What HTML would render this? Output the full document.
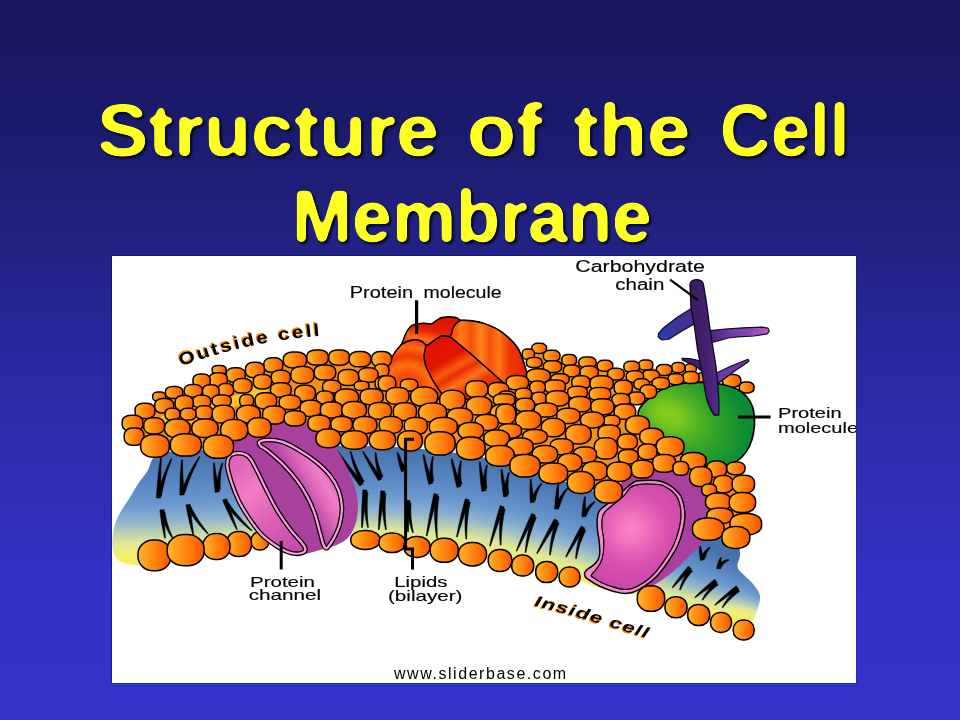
<!DOCTYPE html>
<html lang="en">
<head>
<meta charset="utf-8">
<title>Structure of the Cell Membrane</title>
<style>
html,body{margin:0;padding:0;}
body{width:960px;height:720px;overflow:hidden;position:relative;font-family:"Liberation Sans",sans-serif;
background:linear-gradient(to bottom,#1a1a5e 0px,#1a1a6c 120px,#222284 250px,#2929a0 360px,#2e2eb4 480px,#3232c8 600px,#3333cc 720px);}
.slide{position:absolute;left:0;top:0;width:960px;height:720px;overflow:hidden;}
h1{margin:0;font-weight:bold;}
.title span{position:absolute;font-family:"Liberation Sans",sans-serif;font-weight:bold;font-size:74px;line-height:74px;color:#ffff26;white-space:pre;transform-origin:0 0;}
.title{filter:url(#round);}
.figure{position:absolute;left:111px;top:255px;width:744px;height:427px;background:#fff;background-clip:padding-box;border-style:solid;border-width:1px;border-color:rgba(0,0,120,0.5) rgba(0,0,140,0.25) rgba(0,0,140,0.2) rgba(0,0,120,0.45);}
svg{position:absolute;left:0;top:0;}
.lbl{font-family:"Liberation Sans",sans-serif;fill:#050505;stroke:#050505;stroke-width:0.15px;}
.credit{position:absolute;left:394px;top:663.5px;width:180px;font-family:"Liberation Sans",sans-serif;font-size:16px;line-height:20px;color:#000;letter-spacing:1.55px;white-space:pre;}
</style>
</head>
<body>
<div class="slide">
<h1 class="title">
<span style="left:96.5px;top:94px;transform:scaleX(1.04)">Structure</span>
<span style="left:467px;top:94px;transform:scaleX(1.084)">of</span>
<span style="left:573px;top:94px;transform:scaleX(1.06)">the</span>
<span style="left:720px;top:94px;transform:scaleX(0.952)">Cell</span>
<span style="left:292px;top:179.5px;transform:scaleX(0.973)">Membrane</span>
</h1>
<div class="figure"></div>
<svg width="960" height="720" viewBox="0 0 960 720">
<defs><filter id="round" x="0" y="0" width="960" height="260" filterUnits="userSpaceOnUse" color-interpolation-filters="sRGB">
<feGaussianBlur in="SourceAlpha" stdDeviation="2.4" result="b"/>
<feComponentTransfer in="b" result="t"><feFuncA type="linear" slope="9" intercept="-4"/></feComponentTransfer>
<feFlood flood-color="#ffff24"/><feComposite in2="t" operator="in" result="txt"/>
<feOffset in="t" dx="2.4" dy="2.4" result="o"/><feGaussianBlur in="o" stdDeviation="0.9" result="ob"/>
<feFlood flood-color="#04041c"/><feComposite in2="ob" operator="in" result="sh"/>
<feMerge><feMergeNode in="sh"/><feMergeNode in="txt"/></feMerge>
</filter></defs>
<defs>
<linearGradient id="sg" x1="0" y1="0" x2="1" y2="0">
<stop offset="0" stop-color="#ffb62a"/><stop offset="0.4" stop-color="#ff9014"/><stop offset="0.75" stop-color="#ff6e06"/><stop offset="1" stop-color="#f55200"/>
</linearGradient>
<linearGradient id="bl1" gradientUnits="userSpaceOnUse" x1="0" y1="450" x2="0" y2="564">
<stop offset="0" stop-color="#4670aa"/><stop offset="0.25" stop-color="#5784bf"/><stop offset="0.48" stop-color="#6896cc"/><stop offset="0.62" stop-color="#86a8c2"/><stop offset="0.76" stop-color="#b2c4a0"/><stop offset="0.88" stop-color="#dcdf7c"/><stop offset="1" stop-color="#f8f05a"/>
</linearGradient>
<linearGradient id="bl2" gradientUnits="userSpaceOnUse" x1="600" y1="492" x2="572" y2="590">
<stop offset="0" stop-color="#4670aa"/><stop offset="0.25" stop-color="#5784bf"/><stop offset="0.48" stop-color="#6896cc"/><stop offset="0.62" stop-color="#86a8c2"/><stop offset="0.76" stop-color="#b2c4a0"/><stop offset="0.88" stop-color="#dcdf7c"/><stop offset="1" stop-color="#f8f05a"/>
</linearGradient>
<linearGradient id="bl3" gradientUnits="userSpaceOnUse" x1="754.3" y1="569.9" x2="741.7" y2="614.1">
<stop offset="0" stop-color="#4670aa"/><stop offset="0.25" stop-color="#5784bf"/><stop offset="0.48" stop-color="#6896cc"/><stop offset="0.62" stop-color="#86a8c2"/><stop offset="0.76" stop-color="#b2c4a0"/><stop offset="0.88" stop-color="#dcdf7c"/><stop offset="1" stop-color="#f8f05a"/>
</linearGradient>
<linearGradient id="fadeR2" gradientUnits="userSpaceOnUse" x1="655" y1="0" x2="725" y2="0">
<stop offset="0" stop-color="#fff" stop-opacity="0"/><stop offset="1" stop-color="#fff" stop-opacity="1"/>
</linearGradient>
<mask id="mR2"><rect x="0" y="0" width="960" height="720" fill="url(#fadeR2)"/></mask>
<linearGradient id="fadeR" gradientUnits="userSpaceOnUse" x1="430" y1="0" x2="520" y2="0">
<stop offset="0" stop-color="#fff" stop-opacity="0"/><stop offset="1" stop-color="#fff" stop-opacity="1"/>
</linearGradient>
<mask id="mR"><rect x="0" y="0" width="960" height="720" fill="url(#fadeR)"/></mask>
<radialGradient id="pk1" cx="0.5" cy="0.45" r="0.6"><stop offset="0" stop-color="#f578c0"/><stop offset="0.5" stop-color="#e45cb4"/><stop offset="1" stop-color="#c84aa8"/></radialGradient>
<radialGradient id="pk2" gradientUnits="userSpaceOnUse" cx="631.5" cy="529" r="58"><stop offset="0" stop-color="#f986c6"/><stop offset="0.22" stop-color="#f274be"/><stop offset="0.42" stop-color="#e462b6"/><stop offset="0.66" stop-color="#d650ae"/><stop offset="1" stop-color="#cb48aa"/></radialGradient>
<radialGradient id="gr" gradientUnits="userSpaceOnUse" cx="0" cy="0" r="1" gradientTransform="translate(670,415) rotate(28) scale(84,58)"><stop offset="0" stop-color="#86cc1c"/><stop offset="0.15" stop-color="#7cc81e"/><stop offset="0.32" stop-color="#5ab624"/><stop offset="0.52" stop-color="#3aa628"/><stop offset="0.74" stop-color="#229a2e"/><stop offset="1" stop-color="#0e8a34"/></radialGradient>
<radialGradient id="rd1" gradientUnits="userSpaceOnUse" cx="408" cy="388" r="52"><stop offset="0" stop-color="#ff7a14"/><stop offset="0.25" stop-color="#f24a0a"/><stop offset="0.45" stop-color="#ff7012"/><stop offset="0.62" stop-color="#ee3a06"/><stop offset="0.78" stop-color="#ff6a12"/><stop offset="1" stop-color="#ec3004"/></radialGradient>
<linearGradient id="rdB" gradientUnits="userSpaceOnUse" x1="430" y1="318" x2="424" y2="346"><stop offset="0" stop-color="#e01400"/><stop offset="0.45" stop-color="#e82204"/><stop offset="0.75" stop-color="#ff6c12"/><stop offset="1" stop-color="#f04808"/></linearGradient>
<linearGradient id="rd2" gradientUnits="userSpaceOnUse" x1="440" y1="340" x2="475" y2="400"><stop offset="0" stop-color="#df1200"/><stop offset="0.3" stop-color="#e21600"/><stop offset="0.45" stop-color="#f85a0e"/><stop offset="0.55" stop-color="#ea3004"/><stop offset="0.68" stop-color="#ff7414"/><stop offset="0.8" stop-color="#ee3c06"/><stop offset="1" stop-color="#e21a00"/></linearGradient>
<linearGradient id="rd3" gradientUnits="userSpaceOnUse" x1="452" y1="0" x2="528" y2="0"><stop offset="0" stop-color="#f04a0a"/><stop offset="0.12" stop-color="#ff7a14"/><stop offset="0.25" stop-color="#f2540c"/><stop offset="0.38" stop-color="#ff8218"/><stop offset="0.5" stop-color="#f4520c"/><stop offset="0.62" stop-color="#ff7814"/><stop offset="0.75" stop-color="#ee3a06"/><stop offset="0.88" stop-color="#ea2c04"/><stop offset="1" stop-color="#e21800"/></linearGradient>
<linearGradient id="cb1" gradientUnits="userSpaceOnUse" x1="660" y1="338" x2="694" y2="314"><stop offset="0" stop-color="#2840a8"/><stop offset="1" stop-color="#4c2a88"/></linearGradient>
<linearGradient id="cb2" gradientUnits="userSpaceOnUse" x1="712" y1="335" x2="768" y2="330"><stop offset="0" stop-color="#4a2884"/><stop offset="0.5" stop-color="#7a42b0"/><stop offset="0.85" stop-color="#a050bc"/><stop offset="1" stop-color="#d458c4"/></linearGradient>
<linearGradient id="cb3" gradientUnits="userSpaceOnUse" x1="690" y1="0" x2="722" y2="0"><stop offset="0" stop-color="#3a1a60"/><stop offset="0.5" stop-color="#43206e"/><stop offset="1" stop-color="#54308c"/></linearGradient>
</defs>
<clipPath id="cpB"><path d="M157.0,455.0 C164.1,451.5 176.2,450.5 190.0,450.0 C203.8,449.5 216.7,452.7 240.0,452.0 C263.3,451.3 301.7,446.7 330.0,446.0 C358.3,445.3 386.7,446.5 410.0,448.0 C433.3,449.5 455.0,452.7 470.0,455.0 C485.0,457.3 485.0,457.8 500.0,462.0 C515.0,466.2 541.7,474.2 560.0,480.0 C578.3,485.8 593.3,491.2 610.0,497.0 C626.7,502.8 645.0,509.5 660.0,515.0 C675.0,520.5 687.5,525.0 700.0,530.0 C712.5,535.0 728.3,540.8 735.0,545.0 C741.7,549.2 739.6,551.3 740.0,555.0 C740.4,558.7 736.7,563.5 737.5,567.0 C738.3,570.5 742.4,573.2 745.0,576.0 C747.6,578.8 750.5,580.7 753.0,584.0 C755.5,587.3 759.3,591.5 760.0,596.0 C760.7,600.5 758.3,606.7 757.0,611.0 C755.7,615.3 754.0,618.5 752.0,622.0 C750.0,625.5 750.3,632.0 745.0,632.0 C739.7,632.0 731.5,626.2 720.0,622.0 C708.5,617.8 687.5,611.0 676.0,607.0 C664.5,603.0 663.7,601.2 651.0,598.0 C638.3,594.8 613.5,591.5 600.0,588.0 C586.5,584.5 582.8,580.8 570.0,577.0 C557.2,573.2 539.3,568.8 523.0,565.0 C506.7,561.2 489.8,557.0 472.0,554.0 C454.2,551.0 433.3,549.5 416.0,547.0 C398.7,544.5 378.7,541.3 368.0,539.0 C357.3,536.7 358.3,534.3 352.0,533.0 C345.7,531.7 338.7,530.2 330.0,531.0 C321.3,531.8 311.3,536.3 300.0,538.0 C288.7,539.7 272.2,540.0 262.0,541.0 C251.8,542.0 246.7,542.8 239.0,544.0 C231.3,545.2 225.0,546.7 216.0,548.0 C207.0,549.3 195.2,549.7 185.0,552.0 C174.8,554.3 162.7,559.8 155.0,562.0 C147.3,564.2 144.5,564.9 139.0,565.0 C133.5,565.1 126.1,564.2 122.0,562.5 C117.9,560.8 116.1,557.9 114.5,555.0 C112.9,552.1 112.5,548.5 112.3,545.0 C112.0,541.5 112.4,538.0 113.0,534.0 C113.6,530.0 114.5,525.0 116.0,521.0 C117.5,517.0 119.2,514.2 121.7,510.0 C124.2,505.8 128.1,500.3 130.8,496.0 C133.5,491.7 135.2,488.2 138.0,484.0 C140.8,479.8 144.3,475.8 147.5,471.0 C150.7,466.2 149.9,458.5 157.0,455.0Z"/></clipPath>
<linearGradient id="blv" x1="0" y1="0" x2="0" y2="1"><stop offset="0" stop-color="#4670aa"/><stop offset="0.25" stop-color="#5784bf"/><stop offset="0.45" stop-color="#6896cc"/><stop offset="0.55" stop-color="#7ca6d0"/><stop offset="0.63" stop-color="#92b6cc"/><stop offset="0.72" stop-color="#b8d0b0"/><stop offset="0.8" stop-color="#dce69a"/><stop offset="0.9" stop-color="#eeee78"/><stop offset="1" stop-color="#f8f05a"/></linearGradient>
<filter id="bx" x="80" y="380" width="730" height="300" filterUnits="userSpaceOnUse"><feGaussianBlur stdDeviation="3.5 0"/></filter>
<g clip-path="url(#cpB)"><g filter="url(#bx)" shape-rendering="crispEdges"><path d="M90.0,400.0 L90.0,457.0 L96.0,457.0 L102.0,457.0 L108.0,457.0 L114.0,457.0 L120.0,457.0 L126.0,457.0 L132.0,457.0 L138.0,457.0 L144.0,457.0 L150.0,457.0 L156.0,457.0 L162.0,456.9 L168.0,456.7 L174.0,456.5 L180.0,456.3 L186.0,456.1 L192.0,455.9 L198.0,455.7 L204.0,455.4 L210.0,455.2 L216.0,455.0 L222.0,454.8 L228.0,454.6 L234.0,454.4 L240.0,454.2 L246.0,454.0 L252.0,453.8 L258.0,453.5 L264.0,453.3 L270.0,453.1 L276.0,452.9 L282.0,452.7 L288.0,452.5 L294.0,452.3 L300.0,452.1 L306.0,451.8 L312.0,451.6 L318.0,451.4 L324.0,451.2 L330.0,451.0 L336.0,451.1 L342.0,451.3 L348.0,451.4 L354.0,451.6 L360.0,451.8 L366.0,451.9 L372.0,452.1 L378.0,452.2 L384.0,452.4 L390.0,452.5 L396.0,452.6 L402.0,452.8 L408.0,452.9 L414.0,453.5 L420.0,454.2 L426.0,454.9 L432.0,455.6 L438.0,456.3 L444.0,457.0 L450.0,457.7 L456.0,458.4 L462.0,459.1 L468.0,459.8 L474.0,460.9 L480.0,462.3 L486.0,463.7 L492.0,465.1 L498.0,466.5 L504.0,468.2 L510.0,470.0 L516.0,471.8 L522.0,473.6 L528.0,475.4 L534.0,477.2 L540.0,479.0 L546.0,480.8 L552.0,482.6 L558.0,484.4 L564.0,486.4 L570.0,488.4 L576.0,490.4 L582.0,492.5 L588.0,494.5 L594.0,496.6 L600.0,498.6 L606.0,500.6 L612.0,502.8 L618.0,505.2 L624.0,507.6 L630.0,510.0 L636.0,512.4 L642.0,514.8 L648.0,517.2 L654.0,519.6 L660.0,522.0 L666.0,525.5 L672.0,528.9 L678.0,532.4 L684.0,535.8 L690.0,539.2 L696.0,542.7 L702.0,546.1 L708.0,549.3 L714.0,552.6 L720.0,555.8 L726.0,559.1 L732.0,562.3 L738.0,565.6 L744.0,568.8 L750.0,572.1 L756.0,575.4 L762.0,578.6 L768.0,581.9 L774.0,583.0 L780.0,583.0 L786.0,583.0 L792.0,583.0 L799.0,583.0 L799.0,400.0Z" fill="#4670aa"/><path d="M90.0,670.0 L90.0,559.0 L96.0,559.0 L102.0,559.0 L108.0,559.0 L114.0,559.0 L120.0,559.0 L126.0,559.0 L132.0,559.0 L138.0,559.0 L144.0,559.0 L150.0,559.0 L156.0,559.0 L162.0,558.8 L168.0,558.4 L174.0,557.9 L180.0,557.4 L186.0,556.9 L192.0,556.4 L198.0,556.0 L204.0,555.5 L210.0,555.0 L216.0,554.5 L222.0,554.0 L228.0,553.6 L234.0,553.1 L240.0,552.6 L246.0,552.1 L252.0,551.6 L258.0,551.2 L264.0,550.7 L270.0,550.3 L276.0,549.9 L282.0,549.5 L288.0,549.1 L294.0,548.7 L300.0,548.3 L306.0,547.9 L312.0,547.5 L318.0,547.1 L324.0,546.7 L330.0,546.3 L336.0,545.9 L342.0,545.5 L348.0,545.1 L354.0,544.7 L360.0,544.3 L366.0,544.1 L372.0,544.4 L378.0,544.7 L384.0,545.0 L390.0,545.4 L396.0,545.7 L402.0,546.0 L408.0,546.3 L414.0,546.7 L420.0,547.0 L426.0,547.7 L432.0,548.4 L438.0,549.1 L444.0,549.8 L450.0,550.5 L456.0,551.2 L462.0,551.8 L468.0,552.5 L474.0,553.4 L480.0,554.6 L486.0,555.7 L492.0,556.9 L498.0,558.1 L504.0,559.3 L510.0,560.5 L516.0,561.6 L522.0,562.8 L528.0,564.4 L534.0,566.0 L540.0,567.7 L546.0,569.4 L552.0,571.0 L558.0,572.7 L564.0,574.3 L570.0,576.0 L576.0,578.0 L582.0,580.0 L588.0,582.0 L594.0,584.0 L600.0,586.0 L606.0,587.8 L612.0,589.5 L618.0,591.3 L624.0,593.1 L630.0,594.8 L636.0,596.6 L642.0,598.4 L648.0,600.1 L654.0,601.6 L660.0,602.8 L666.0,604.1 L672.0,605.3 L678.0,606.5 L684.0,607.7 L690.0,609.0 L696.0,610.2 L702.0,611.2 L708.0,611.7 L714.0,612.2 L720.0,612.7 L726.0,613.2 L732.0,613.7 L738.0,614.2 L744.0,614.7 L750.0,615.5 L756.0,617.2 L762.0,618.8 L768.0,620.5 L774.0,621.0 L780.0,621.0 L786.0,621.0 L792.0,621.0 L799.0,621.0 L799.0,670.0Z" fill="#f8f05a"/><g fill="url(#blv)"><rect x="90" y="452.0" width="6.6" height="112.0"/><rect x="96" y="452.0" width="6.6" height="112.0"/><rect x="102" y="452.0" width="6.6" height="112.0"/><rect x="108" y="452.0" width="6.6" height="112.0"/><rect x="114" y="452.0" width="6.6" height="112.0"/><rect x="120" y="452.0" width="6.6" height="112.0"/><rect x="126" y="452.0" width="6.6" height="112.0"/><rect x="132" y="452.0" width="6.6" height="112.0"/><rect x="138" y="452.0" width="6.6" height="112.0"/><rect x="144" y="452.0" width="6.6" height="112.0"/><rect x="150" y="452.0" width="6.6" height="112.0"/><rect x="156" y="452.0" width="6.6" height="112.0"/><rect x="162" y="451.8" width="6.6" height="111.8"/><rect x="168" y="451.6" width="6.6" height="111.5"/><rect x="174" y="451.4" width="6.6" height="111.2"/><rect x="180" y="451.2" width="6.6" height="111.0"/><rect x="186" y="451.0" width="6.6" height="110.7"/><rect x="192" y="450.8" width="6.6" height="110.4"/><rect x="198" y="450.6" width="6.6" height="110.2"/><rect x="204" y="450.3" width="6.6" height="109.9"/><rect x="210" y="450.1" width="6.6" height="109.6"/><rect x="216" y="449.9" width="6.6" height="109.4"/><rect x="222" y="449.7" width="6.6" height="109.1"/><rect x="228" y="449.5" width="6.6" height="108.8"/><rect x="234" y="449.3" width="6.6" height="108.6"/><rect x="240" y="449.1" width="6.6" height="108.3"/><rect x="246" y="448.9" width="6.6" height="108.0"/><rect x="252" y="448.6" width="6.6" height="107.8"/><rect x="258" y="448.4" width="6.6" height="107.5"/><rect x="264" y="448.2" width="6.6" height="107.3"/><rect x="270" y="448.0" width="6.6" height="107.1"/><rect x="276" y="447.8" width="6.6" height="106.9"/><rect x="282" y="447.6" width="6.6" height="106.7"/><rect x="288" y="447.4" width="6.6" height="106.6"/><rect x="294" y="447.2" width="6.6" height="106.4"/><rect x="300" y="447.0" width="6.6" height="106.2"/><rect x="306" y="446.7" width="6.6" height="106.0"/><rect x="312" y="446.5" width="6.6" height="105.8"/><rect x="318" y="446.3" width="6.6" height="105.6"/><rect x="324" y="446.1" width="6.6" height="105.4"/><rect x="330" y="446.1" width="6.6" height="105.1"/><rect x="336" y="446.2" width="6.6" height="104.5"/><rect x="342" y="446.4" width="6.6" height="104.0"/><rect x="348" y="446.5" width="6.6" height="103.4"/><rect x="354" y="446.7" width="6.6" height="102.9"/><rect x="360" y="446.8" width="6.6" height="102.3"/><rect x="366" y="447.0" width="6.6" height="102.2"/><rect x="372" y="447.1" width="6.6" height="102.4"/><rect x="378" y="447.3" width="6.6" height="102.6"/><rect x="384" y="447.4" width="6.6" height="102.8"/><rect x="390" y="447.6" width="6.6" height="103.0"/><rect x="396" y="447.7" width="6.6" height="103.1"/><rect x="402" y="447.9" width="6.6" height="103.3"/><rect x="408" y="448.1" width="6.6" height="103.4"/><rect x="414" y="448.8" width="6.6" height="103.0"/><rect x="420" y="449.5" width="6.6" height="102.8"/><rect x="426" y="450.2" width="6.6" height="102.8"/><rect x="432" y="450.9" width="6.6" height="102.8"/><rect x="438" y="451.6" width="6.6" height="102.8"/><rect x="444" y="452.3" width="6.6" height="102.8"/><rect x="450" y="453.0" width="6.6" height="102.8"/><rect x="456" y="453.7" width="6.6" height="102.8"/><rect x="462" y="454.4" width="6.6" height="102.8"/><rect x="468" y="455.2" width="6.6" height="102.7"/><rect x="474" y="456.6" width="6.6" height="102.3"/><rect x="480" y="458.0" width="6.6" height="102.1"/><rect x="486" y="459.4" width="6.6" height="101.9"/><rect x="492" y="460.8" width="6.6" height="101.7"/><rect x="498" y="462.3" width="6.6" height="101.4"/><rect x="504" y="464.1" width="6.6" height="100.8"/><rect x="510" y="465.9" width="6.6" height="100.1"/><rect x="516" y="467.7" width="6.6" height="99.5"/><rect x="522" y="469.5" width="6.6" height="99.1"/><rect x="528" y="471.3" width="6.6" height="98.9"/><rect x="534" y="473.1" width="6.6" height="98.8"/><rect x="540" y="474.9" width="6.6" height="98.6"/><rect x="546" y="476.7" width="6.6" height="98.5"/><rect x="552" y="478.5" width="6.6" height="98.4"/><rect x="558" y="480.3" width="6.6" height="98.2"/><rect x="564" y="482.4" width="6.6" height="97.8"/><rect x="570" y="484.4" width="6.6" height="97.6"/><rect x="576" y="486.5" width="6.6" height="97.5"/><rect x="582" y="488.5" width="6.6" height="97.5"/><rect x="588" y="490.5" width="6.6" height="97.5"/><rect x="594" y="492.6" width="6.6" height="97.4"/><rect x="600" y="494.6" width="6.6" height="97.3"/><rect x="606" y="496.7" width="6.6" height="97.0"/><rect x="612" y="499.0" width="6.6" height="96.4"/><rect x="618" y="501.4" width="6.6" height="95.8"/><rect x="624" y="503.8" width="6.6" height="95.1"/><rect x="630" y="506.2" width="6.6" height="94.5"/><rect x="636" y="508.6" width="6.6" height="93.9"/><rect x="642" y="511.0" width="6.6" height="93.2"/><rect x="648" y="513.4" width="6.6" height="92.6"/><rect x="654" y="515.8" width="6.6" height="91.4"/><rect x="660" y="518.7" width="6.6" height="89.7"/><rect x="666" y="522.2" width="6.6" height="87.5"/><rect x="672" y="525.6" width="6.6" height="85.3"/><rect x="678" y="529.1" width="6.6" height="83.0"/><rect x="684" y="532.5" width="6.6" height="80.8"/><rect x="690" y="536.0" width="6.6" height="78.6"/><rect x="696" y="539.4" width="6.6" height="76.4"/><rect x="702" y="542.7" width="6.6" height="73.7"/><rect x="708" y="546.0" width="6.6" height="71.0"/><rect x="714" y="549.2" width="6.6" height="68.2"/><rect x="720" y="552.5" width="6.6" height="65.5"/><rect x="726" y="555.7" width="6.6" height="62.7"/><rect x="732" y="559.0" width="6.6" height="60.0"/><rect x="738" y="562.2" width="6.6" height="57.2"/><rect x="744" y="565.5" width="6.6" height="54.5"/><rect x="750" y="568.7" width="6.6" height="52.6"/><rect x="756" y="572.0" width="6.6" height="51.0"/><rect x="762" y="575.3" width="6.6" height="49.4"/><rect x="768" y="578.0" width="6.6" height="48.0"/><rect x="774" y="578.0" width="6.6" height="48.0"/><rect x="780" y="578.0" width="6.6" height="48.0"/><rect x="786" y="578.0" width="6.6" height="48.0"/><rect x="792" y="578.0" width="6.6" height="48.0"/></g></g></g>
<g fill="#000" stroke="#000" stroke-width="0.6" stroke-linejoin="round">
<path d="M160.6,457.7 L159.6,464.3 L158.7,471.0 L158.0,477.7 L157.4,484.5 L156.8,491.2 L156.4,498.0 L160.6,498.0 L160.6,491.3 L160.6,484.6 L160.7,477.9 L160.9,471.2 L161.1,464.5 L161.4,457.7Z"/>
<path d="M171.2,458.5 L168.2,464.4 L165.6,470.3 L163.3,476.4 L161.1,482.5 L159.3,488.8 L157.6,495.1 L161.4,495.9 L162.6,489.6 L164.0,483.3 L165.6,477.1 L167.5,471.0 L169.6,464.9 L171.8,458.9Z"/>
<path d="M181.6,459.8 L181.0,465.6 L180.6,471.5 L180.2,477.4 L180.0,483.3 L179.9,489.2 L179.9,495.1 L184.1,494.9 L183.6,489.1 L183.3,483.2 L183.0,477.4 L182.7,471.5 L182.6,465.7 L182.4,459.8Z"/>
<path d="M199.3,456.5 L195.6,462.1 L192.3,467.8 L189.2,473.6 L186.3,479.6 L183.6,485.7 L181.2,491.9 L184.8,493.1 L186.8,486.9 L189.0,480.7 L191.4,474.7 L194.1,468.7 L196.9,462.8 L199.9,456.9Z"/>
<path d="M213.6,463.0 L213.5,467.9 L213.7,472.8 L213.9,477.7 L214.2,482.6 L214.7,487.5 L215.2,492.4 L219.4,491.6 L218.4,486.9 L217.5,482.2 L216.6,477.4 L215.8,472.6 L215.1,467.8 L214.4,463.0Z"/>
<path d="M222.1,462.9 L220.5,467.1 L219.1,471.5 L218.1,475.9 L217.3,480.4 L216.7,484.9 L216.4,489.5 L220.2,489.5 L220.1,485.1 L220.2,480.7 L220.5,476.3 L221.1,471.9 L221.9,467.5 L222.9,463.1Z"/>
<path d="M336.7,450.6 L340.3,456.7 L344.0,462.7 L347.8,468.6 L351.7,474.5 L355.7,480.3 L359.8,486.1 L363.2,483.5 L358.7,478.1 L354.4,472.6 L350.0,467.0 L345.8,461.5 L341.6,455.8 L337.3,450.2Z"/>
<path d="M350.2,451.6 L351.3,457.1 L352.7,462.4 L354.4,467.7 L356.3,473.0 L358.4,478.1 L360.8,483.2 L364.2,481.4 L361.5,476.6 L359.0,471.8 L356.7,466.8 L354.6,461.8 L352.7,456.6 L351.0,451.4Z"/>
<path d="M362.7,451.7 L365.0,456.7 L367.5,461.6 L370.1,466.5 L372.9,471.3 L375.7,476.1 L378.6,480.8 L382.0,478.4 L378.8,474.0 L375.6,469.5 L372.5,465.0 L369.4,460.5 L366.4,455.9 L363.3,451.3Z"/>
<path d="M375.2,452.5 L375.2,456.8 L375.6,461.1 L376.2,465.3 L377.0,469.5 L378.2,473.7 L379.6,477.8 L383.0,476.4 L381.3,472.6 L379.9,468.7 L378.6,464.8 L377.5,460.8 L376.7,456.7 L376.0,452.5Z"/>
<path d="M397.1,452.6 L397.5,455.9 L398.1,459.1 L398.8,462.3 L399.6,465.5 L400.5,468.7 L401.6,471.8 L405.4,470.2 L404.0,467.3 L402.7,464.4 L401.4,461.5 L400.2,458.5 L399.0,455.5 L397.9,452.4Z"/>
<path d="M398.6,455.0 L398.6,457.6 L399.0,460.2 L399.6,462.6 L400.5,465.1 L401.6,467.4 L403.0,469.7 L406.0,467.3 L404.4,465.5 L403.1,463.7 L401.9,461.7 L400.9,459.6 L400.1,457.3 L399.4,455.0Z"/>
<path d="M423.1,454.7 L423.7,459.7 L424.5,464.7 L425.4,469.6 L426.5,474.6 L427.6,479.5 L428.8,484.4 L432.8,483.2 L431.2,478.5 L429.6,473.7 L428.1,469.0 L426.7,464.2 L425.3,459.4 L423.9,454.5Z"/>
<path d="M432.6,456.6 L431.5,460.6 L430.6,464.7 L430.1,468.9 L429.7,473.1 L429.7,477.3 L429.9,481.5 L433.7,481.1 L433.1,477.1 L432.7,473.0 L432.6,469.0 L432.6,465.0 L432.9,460.9 L433.4,456.8Z"/>
<path d="M451.3,458.9 L451.9,463.7 L452.7,468.5 L453.6,473.3 L454.7,478.1 L455.8,482.8 L457.0,487.5 L461.0,486.3 L459.4,481.7 L457.8,477.2 L456.3,472.6 L454.9,468.0 L453.5,463.4 L452.1,458.7Z"/>
<path d="M460.6,460.7 L459.5,464.6 L458.7,468.5 L458.2,472.5 L457.9,476.5 L457.9,480.6 L458.1,484.7 L461.9,484.1 L461.2,480.3 L460.8,476.5 L460.7,472.6 L460.7,468.7 L461.0,464.8 L461.4,460.9Z"/>
<path d="M479.4,461.9 L479.5,466.9 L479.8,471.8 L480.2,476.7 L480.6,481.6 L481.2,486.5 L481.9,491.4 L486.1,490.6 L484.9,485.8 L483.8,481.1 L482.9,476.3 L481.9,471.5 L481.1,466.7 L480.2,461.9Z"/>
<path d="M486.6,464.9 L485.3,468.7 L484.4,472.6 L483.7,476.6 L483.2,480.6 L483.0,484.6 L483.1,488.7 L486.9,488.3 L486.4,484.5 L486.2,480.6 L486.2,476.8 L486.4,472.9 L486.8,469.0 L487.4,465.1Z"/>
<path d="M501.1,469.5 L501.2,474.1 L501.5,478.7 L501.9,483.3 L502.4,487.8 L503.0,492.4 L503.7,497.0 L507.9,496.0 L506.7,491.7 L505.6,487.3 L504.6,482.8 L503.7,478.4 L502.8,473.9 L501.9,469.5Z"/>
<path d="M508.6,472.4 L507.3,475.8 L506.3,479.4 L505.6,483.0 L505.1,486.7 L504.9,490.4 L504.9,494.2 L508.7,493.8 L508.3,490.3 L508.0,486.8 L508.1,483.3 L508.3,479.7 L508.7,476.2 L509.4,472.6Z"/>
<path d="M530.4,479.0 L530.1,483.0 L529.9,486.9 L529.9,490.9 L530.0,494.8 L530.1,498.8 L530.4,502.8 L534.6,502.2 L533.8,498.4 L533.2,494.5 L532.6,490.7 L532.1,486.8 L531.6,482.9 L531.2,479.0Z"/>
<path d="M541.4,483.1 L539.2,485.4 L537.2,487.9 L535.5,490.6 L534.0,493.5 L532.7,496.4 L531.6,499.6 L535.4,500.4 L535.9,497.4 L536.7,494.5 L537.7,491.7 L539.0,488.9 L540.4,486.2 L542.0,483.5Z"/>
<path d="M557.9,483.3 L557.0,487.5 L556.3,491.8 L555.7,496.0 L555.3,500.3 L554.9,504.7 L554.6,509.0 L558.8,509.0 L558.6,504.7 L558.5,500.5 L558.5,496.2 L558.5,491.9 L558.6,487.7 L558.7,483.3Z"/>
<path d="M567.2,488.1 L564.7,490.6 L562.5,493.4 L560.5,496.3 L558.8,499.4 L557.2,502.6 L555.9,506.0 L559.5,507.0 L560.4,503.8 L561.5,500.6 L562.7,497.5 L564.2,494.4 L565.9,491.5 L567.8,488.5Z"/>
<path d="M584.6,496.7 L583.8,499.9 L583.2,503.3 L582.7,506.6 L582.4,510.0 L582.1,513.4 L581.9,516.8 L586.1,516.6 L585.8,513.3 L585.6,510.1 L585.5,506.7 L585.4,503.4 L585.4,500.1 L585.4,496.7Z"/>
<path d="M594.8,501.4 L592.4,502.8 L590.2,504.6 L588.2,506.5 L586.3,508.6 L584.7,510.9 L583.3,513.4 L586.7,515.0 L587.7,512.5 L588.8,510.2 L590.1,508.0 L591.6,506.0 L593.3,504.0 L595.2,502.0Z"/>
<path d="M699.6,546.0 L699.4,548.5 L699.4,550.9 L699.5,553.3 L699.7,555.7 L700.1,558.2 L700.5,560.6 L704.5,559.4 L703.7,557.2 L702.9,555.1 L702.2,552.8 L701.6,550.6 L701.0,548.3 L700.4,546.0Z"/>
<path d="M709.8,547.2 L707.9,548.3 L706.2,549.7 L704.8,551.2 L703.5,553.0 L702.5,554.9 L701.6,557.1 L705.4,557.9 L705.7,556.1 L706.2,554.3 L706.9,552.6 L707.8,550.9 L708.9,549.4 L710.2,547.8Z"/>
<path d="M720.6,557.4 L719.6,559.1 L718.8,560.9 L718.1,562.7 L717.5,564.6 L717.0,566.6 L716.6,568.6 L720.8,568.8 L720.7,567.0 L720.7,565.1 L720.8,563.3 L720.9,561.4 L721.2,559.6 L721.4,557.6Z"/>
<path d="M728.6,559.6 L726.6,559.8 L724.7,560.4 L722.9,561.2 L721.2,562.2 L719.6,563.6 L718.1,565.2 L721.3,567.2 L722.1,565.8 L723.1,564.4 L724.3,563.2 L725.6,562.2 L727.1,561.2 L728.8,560.4Z"/>
<path d="M165.4,537.9 L165.1,533.2 L164.8,528.5 L164.6,523.8 L164.4,519.1 L164.2,514.4 L164.1,509.7 L159.9,509.9 L160.5,514.7 L161.1,519.4 L161.8,524.1 L162.7,528.8 L163.6,533.4 L164.6,538.1Z"/>
<path d="M172.8,537.8 L171.0,533.6 L169.3,529.4 L167.9,525.1 L166.7,520.8 L165.7,516.4 L164.9,511.9 L161.1,512.7 L162.4,517.2 L163.8,521.6 L165.5,526.0 L167.5,530.2 L169.7,534.3 L172.2,538.2Z"/>
<path d="M193.7,534.7 L193.0,529.6 L192.3,524.6 L191.7,519.5 L191.1,514.5 L190.6,509.4 L190.1,504.3 L185.9,504.9 L186.9,509.9 L187.9,515.0 L189.0,520.0 L190.2,525.0 L191.5,530.0 L192.9,534.9Z"/>
<path d="M208.3,533.4 L204.9,529.1 L201.7,524.8 L198.6,520.3 L195.8,515.7 L193.1,511.0 L190.7,506.2 L187.3,508.0 L190.2,512.7 L193.3,517.3 L196.6,521.8 L200.1,526.0 L203.8,530.1 L207.7,534.0Z"/>
<path d="M237.3,529.4 L235.5,524.3 L233.6,519.2 L231.8,514.1 L230.0,509.0 L228.3,503.8 L226.6,498.7 L222.6,500.1 L224.8,505.2 L227.0,510.2 L229.3,515.1 L231.6,520.1 L234.1,524.9 L236.7,529.8Z"/>
<path d="M251.9,530.3 L247.4,525.7 L243.0,521.0 L238.8,516.1 L234.7,511.2 L230.8,506.1 L227.1,500.8 L224.1,503.0 L228.2,508.1 L232.4,513.1 L236.9,517.8 L241.6,522.4 L246.4,526.8 L251.5,530.9Z"/>
<path d="M362.4,527.5 L363.1,521.3 L363.8,515.1 L364.6,508.8 L365.3,502.6 L366.2,496.4 L367.1,490.2 L362.9,489.8 L362.5,496.0 L362.1,502.3 L361.8,508.6 L361.6,514.9 L361.5,521.2 L361.6,527.5Z"/>
<path d="M368.4,527.4 L367.8,521.6 L367.4,515.8 L367.2,510.0 L367.2,504.2 L367.4,498.4 L367.9,492.6 L364.1,492.4 L364.0,498.3 L364.2,504.2 L364.7,510.1 L365.4,516.0 L366.3,521.8 L367.6,527.6Z"/>
<path d="M379.2,529.6 L380.1,523.2 L381.0,516.8 L382.0,510.4 L382.9,504.0 L384.0,497.7 L385.1,491.3 L380.9,490.7 L380.3,497.2 L379.7,503.6 L379.2,510.1 L378.8,516.6 L378.6,523.1 L378.4,529.6Z"/>
<path d="M386.4,529.5 L385.8,523.5 L385.4,517.5 L385.2,511.5 L385.2,505.6 L385.4,499.6 L385.9,493.6 L382.1,493.4 L382.0,499.5 L382.2,505.6 L382.7,511.7 L383.4,517.7 L384.3,523.7 L385.6,529.7Z"/>
<path d="M408.4,531.7 L408.6,526.5 L408.8,521.3 L409.1,516.0 L409.4,510.9 L409.7,505.7 L410.1,500.5 L405.9,500.3 L406.0,505.6 L406.1,510.8 L406.3,516.0 L406.6,521.3 L407.0,526.5 L407.6,531.7Z"/>
<path d="M413.4,532.6 L412.4,527.6 L411.7,522.7 L411.1,517.8 L410.8,512.8 L410.8,507.9 L410.9,502.9 L407.1,502.9 L407.4,508.0 L407.9,513.1 L408.7,518.1 L409.7,523.1 L411.0,528.0 L412.6,532.8Z"/>
<path d="M427.1,535.9 L428.9,529.0 L430.6,522.0 L432.4,515.1 L434.2,508.2 L436.1,501.4 L438.0,494.5 L434.0,493.5 L432.5,500.5 L431.1,507.5 L429.7,514.5 L428.5,521.6 L427.3,528.6 L426.3,535.7Z"/>
<path d="M437.4,538.0 L437.1,531.0 L437.0,524.1 L437.2,517.2 L437.5,510.4 L438.1,503.5 L438.9,496.7 L435.1,496.3 L434.7,503.3 L434.5,510.3 L434.6,517.2 L435.0,524.2 L435.7,531.1 L436.6,538.0Z"/>
<path d="M457.3,537.0 L459.2,530.8 L461.2,524.6 L463.1,518.4 L465.1,512.3 L467.2,506.1 L469.3,500.0 L465.3,498.8 L463.6,505.1 L462.0,511.4 L460.5,517.7 L459.1,524.0 L457.7,530.4 L456.5,536.8Z"/>
<path d="M466.7,539.0 L466.8,532.8 L467.0,526.6 L467.5,520.5 L468.1,514.4 L469.0,508.3 L470.2,502.2 L466.4,501.6 L465.7,507.8 L465.2,514.1 L465.0,520.3 L465.0,526.6 L465.3,532.8 L465.9,539.0Z"/>
<path d="M490.4,546.1 L492.6,539.6 L494.9,533.0 L497.1,526.5 L499.4,519.9 L501.8,513.5 L504.2,507.0 L500.2,505.6 L498.2,512.3 L496.3,519.0 L494.5,525.7 L492.8,532.4 L491.1,539.1 L489.6,545.9Z"/>
<path d="M501.1,545.0 L501.2,538.9 L501.6,532.9 L502.1,526.9 L502.9,521.0 L503.8,515.0 L505.1,509.2 L501.3,508.4 L500.5,514.5 L499.9,520.6 L499.6,526.7 L499.6,532.8 L499.8,538.9 L500.3,545.0Z"/>
<path d="M516.9,551.1 L520.0,545.1 L523.0,539.1 L526.0,533.1 L529.1,527.1 L532.2,521.2 L535.4,515.2 L531.6,513.4 L528.9,519.5 L526.2,525.7 L523.5,532.0 L521.0,538.2 L518.5,544.5 L516.3,550.9Z"/>
<path d="M525.9,552.5 L527.1,546.5 L528.5,540.6 L530.1,534.7 L532.0,528.9 L534.0,523.1 L536.3,517.5 L532.7,516.1 L530.8,522.1 L529.1,528.0 L527.7,534.1 L526.6,540.2 L525.7,546.3 L525.1,552.5Z"/>
<path d="M537.3,553.7 L540.8,548.2 L544.2,542.7 L547.6,537.3 L551.0,531.9 L554.5,526.5 L558.1,521.1 L554.5,518.9 L551.3,524.5 L548.2,530.2 L545.2,535.9 L542.3,541.7 L539.4,547.5 L536.7,553.3Z"/>
<path d="M550.4,555.0 L551.4,549.5 L552.5,544.1 L553.8,538.8 L555.3,533.5 L557.1,528.3 L559.1,523.2 L555.5,521.8 L553.9,527.3 L552.5,532.7 L551.4,538.2 L550.5,543.8 L549.9,549.4 L549.6,555.0Z"/>
<path d="M566.3,557.2 L569.4,552.3 L572.4,547.4 L575.4,542.5 L578.5,537.7 L581.6,532.9 L584.8,528.1 L581.2,525.9 L578.4,531.0 L575.7,536.1 L573.1,541.2 L570.5,546.3 L568.0,551.5 L565.7,556.8Z"/>
<path d="M576.4,558.5 L577.5,553.6 L578.7,548.8 L580.1,544.0 L581.8,539.4 L583.7,534.8 L585.7,530.3 L582.3,528.7 L580.5,533.6 L579.0,538.4 L577.7,543.4 L576.7,548.4 L576.0,553.4 L575.6,558.5Z"/>
<path d="M672.8,587.7 L675.9,584.6 L679.0,581.4 L682.1,578.2 L685.2,575.1 L688.3,572.0 L691.5,569.0 L688.5,566.0 L685.6,569.5 L682.8,572.9 L680.0,576.4 L677.3,580.0 L674.7,583.6 L672.2,587.3Z"/>
<path d="M680.4,590.1 L682.0,586.6 L683.7,583.3 L685.6,580.1 L687.7,577.0 L690.0,574.0 L692.5,571.2 L689.5,568.8 L687.3,572.0 L685.2,575.4 L683.4,578.9 L681.9,582.4 L680.6,586.1 L679.6,589.9Z"/>
<path d="M695.2,597.8 L698.9,595.2 L702.5,592.6 L706.2,590.1 L709.8,587.6 L713.5,585.1 L717.2,582.7 L714.8,579.3 L711.3,582.1 L707.9,585.0 L704.5,587.9 L701.1,590.9 L697.9,594.0 L694.8,597.2Z"/>
<path d="M702.8,600.2 L705.1,597.3 L707.4,594.5 L709.9,591.8 L712.5,589.4 L715.2,587.1 L718.2,585.0 L715.8,582.0 L713.0,584.6 L710.4,587.3 L708.0,590.2 L705.8,593.2 L703.8,596.4 L702.2,599.8Z"/>
<path d="M715.2,605.3 L719.1,602.6 L723.0,599.8 L726.9,597.1 L730.8,594.4 L734.8,591.8 L738.7,589.2 L736.3,585.8 L732.5,588.8 L728.9,591.8 L725.2,594.9 L721.7,598.1 L718.1,601.3 L714.8,604.7Z"/>
<path d="M722.8,607.7 L725.3,604.6 L727.9,601.6 L730.6,598.9 L733.5,596.2 L736.5,593.8 L739.6,591.5 L737.4,588.5 L734.3,591.2 L731.4,594.1 L728.8,597.2 L726.3,600.4 L724.1,603.7 L722.2,607.3Z"/>
</g>
<g fill="url(#sg)" stroke="#000" stroke-width="1.5">
<rect x="251.0" y="532.0" width="18.0" height="18.0" rx="8.3" ry="8.3"/>
<rect x="226.5" y="531.5" width="25.0" height="25.0" rx="11.5" ry="11.5"/>
<rect x="203.0" y="533.5" width="27.0" height="26.0" rx="12.4" ry="12.0"/>
<rect x="138.0" y="540.0" width="33.0" height="30.8" rx="15.2" ry="14.2"/>
<rect x="167.2" y="534.6" width="37.0" height="31.2" rx="17.0" ry="14.4"/>
<rect x="350.8" y="530.6" width="29.2" height="18.8" rx="13.4" ry="8.6"/>
<rect x="379.0" y="533.0" width="26.0" height="19.6" rx="12.0" ry="9.0"/>
<rect x="404.0" y="536.6" width="26.0" height="20.8" rx="12.0" ry="9.6"/>
<rect x="430.2" y="538.3" width="28.0" height="24.0" rx="12.9" ry="11.0"/>
<rect x="458.5" y="542.5" width="28.0" height="23.4" rx="12.9" ry="10.8"/>
<rect x="488.2" y="549.4" width="23.6" height="22.0" rx="10.9" ry="10.1"/>
<rect x="511.7" y="555.1" width="22.0" height="21.0" rx="10.1" ry="9.7"/>
<rect x="535.7" y="561.5" width="22.0" height="21.0" rx="10.1" ry="9.7"/>
<rect x="559.1" y="567.0" width="21.0" height="20.0" rx="9.7" ry="9.2"/>
</g>
<path d="M282.0,416.0 C274.7,416.3 265.0,417.3 258.0,420.0 C251.0,422.7 244.8,427.3 240.0,432.0 C235.2,436.7 231.2,443.7 229.0,448.0 C226.8,452.3 226.8,455.0 226.5,458.0 C226.2,461.0 226.5,461.9 227.3,466.0 C228.1,470.1 229.6,476.7 231.5,482.5 C233.4,488.3 235.9,495.1 238.8,501.0 C241.7,506.9 245.2,512.4 249.0,518.0 C252.8,523.6 256.9,529.8 261.7,534.6 C266.5,539.4 273.1,543.9 278.0,547.0 C282.9,550.1 286.8,552.2 291.0,553.5 C295.2,554.8 298.2,555.1 303.0,554.5 C307.8,553.9 314.4,551.6 320.0,550.0 C325.6,548.4 331.9,547.2 336.7,545.0 C341.5,542.8 345.9,540.2 349.0,536.7 C352.1,533.2 353.9,528.5 355.4,524.0 C356.9,519.5 357.6,514.8 357.8,509.6 C358.0,504.4 358.0,499.3 356.5,493.0 C355.0,486.7 352.1,479.0 349.0,472.0 C345.9,465.0 342.5,458.0 338.0,451.0 C333.5,444.0 328.0,435.5 322.0,430.0 C316.0,424.5 308.7,420.3 302.0,418.0 C295.3,415.7 289.3,415.7 282.0,416.0Z" fill="#a8409e"/>
<linearGradient id="pkL" gradientUnits="userSpaceOnUse" x1="232" y1="470" x2="296" y2="545"><stop offset="0" stop-color="#e264b8"/><stop offset="0.3" stop-color="#f27cc6"/><stop offset="0.6" stop-color="#e062b8"/><stop offset="1" stop-color="#c84cac"/></linearGradient>
<linearGradient id="pkR" gradientUnits="userSpaceOnUse" x1="290" y1="505" x2="338" y2="478"><stop offset="0" stop-color="#a8409e"/><stop offset="0.3" stop-color="#b84aa6"/><stop offset="0.55" stop-color="#e068ba"/><stop offset="0.75" stop-color="#f07ec8"/><stop offset="1" stop-color="#d45cb2"/></linearGradient>
<path d="M229.4,456.5 C230.8,454.4 233.0,453.7 235.6,453.3 C238.2,452.9 242.4,453.3 245.0,454.4 C247.6,455.4 248.6,456.0 251.0,459.6 C253.4,463.2 256.8,470.4 259.6,476.0 C262.4,481.6 264.9,487.1 268.0,493.0 C271.1,498.9 274.2,505.5 278.0,511.7 C281.8,517.9 287.0,525.2 291.0,530.4 C295.0,535.6 299.6,539.9 302.0,543.0 C304.4,546.1 305.4,547.3 305.4,549.0 C305.4,550.7 304.4,552.3 302.0,553.0 C299.6,553.7 295.0,554.0 291.0,553.0 C287.0,552.0 282.9,550.1 278.0,547.0 C273.1,543.9 266.5,539.4 261.7,534.6 C256.9,529.8 252.8,523.6 249.0,518.0 C245.2,512.4 241.7,506.9 238.8,501.0 C235.9,495.1 233.4,488.4 231.5,482.5 C229.6,476.6 227.7,470.1 227.3,465.8 C227.0,461.5 228.0,458.6 229.4,456.5Z" fill="url(#pkL)" stroke="#000" stroke-width="4.8" stroke-linejoin="round"/>
<path d="M229.4,456.5 C230.8,454.4 233.0,453.7 235.6,453.3 C238.2,452.9 242.4,453.3 245.0,454.4 C247.6,455.4 248.6,456.0 251.0,459.6 C253.4,463.2 256.8,470.4 259.6,476.0 C262.4,481.6 264.9,487.1 268.0,493.0 C271.1,498.9 274.2,505.5 278.0,511.7 C281.8,517.9 287.0,525.2 291.0,530.4 C295.0,535.6 299.6,539.9 302.0,543.0 C304.4,546.1 305.4,547.3 305.4,549.0 C305.4,550.7 304.4,552.3 302.0,553.0 C299.6,553.7 295.0,554.0 291.0,553.0 C287.0,552.0 282.9,550.1 278.0,547.0 C273.1,543.9 266.5,539.4 261.7,534.6 C256.9,529.8 252.8,523.6 249.0,518.0 C245.2,512.4 241.7,506.9 238.8,501.0 C235.9,495.1 233.4,488.4 231.5,482.5 C229.6,476.6 227.7,470.1 227.3,465.8 C227.0,461.5 228.0,458.6 229.4,456.5Z" fill="none" stroke="#f9a2dc" stroke-width="2.2" stroke-linejoin="round"/>
<path d="M259.6,441.9 C260.8,440.9 264.2,439.8 268.0,439.8 C271.8,439.8 277.3,440.2 282.5,441.9 C287.7,443.6 293.4,446.9 299.0,450.2 C304.6,453.5 310.6,457.4 315.8,461.7 C321.0,466.0 326.6,471.1 330.4,476.0 C334.2,480.9 336.9,485.6 338.8,490.8 C340.7,496.1 341.7,502.0 341.9,507.5 C342.1,513.0 341.0,519.1 339.8,524.0 C338.6,528.9 336.2,533.6 334.5,537.0 C332.8,540.4 331.2,542.6 329.8,544.5 C328.4,546.4 327.4,548.4 326.3,548.3 C325.2,548.2 324.2,546.6 323.2,544.0 C322.1,541.4 321.4,537.5 320.0,532.5 C318.6,527.5 316.9,519.7 314.8,513.8 C312.7,507.9 310.5,502.6 307.5,497.0 C304.5,491.4 301.2,485.9 297.0,480.4 C292.8,474.9 287.3,468.7 282.5,463.8 C277.7,458.9 271.6,454.0 268.0,451.0 C264.4,448.0 262.0,447.5 260.6,446.0 C259.2,444.5 258.4,442.9 259.6,441.9Z" fill="url(#pkR)" stroke="#000" stroke-width="4.8" stroke-linejoin="round"/>
<path d="M259.6,441.9 C260.8,440.9 264.2,439.8 268.0,439.8 C271.8,439.8 277.3,440.2 282.5,441.9 C287.7,443.6 293.4,446.9 299.0,450.2 C304.6,453.5 310.6,457.4 315.8,461.7 C321.0,466.0 326.6,471.1 330.4,476.0 C334.2,480.9 336.9,485.6 338.8,490.8 C340.7,496.1 341.7,502.0 341.9,507.5 C342.1,513.0 341.0,519.1 339.8,524.0 C338.6,528.9 336.2,533.6 334.5,537.0 C332.8,540.4 331.2,542.6 329.8,544.5 C328.4,546.4 327.4,548.4 326.3,548.3 C325.2,548.2 324.2,546.6 323.2,544.0 C322.1,541.4 321.4,537.5 320.0,532.5 C318.6,527.5 316.9,519.7 314.8,513.8 C312.7,507.9 310.5,502.6 307.5,497.0 C304.5,491.4 301.2,485.9 297.0,480.4 C292.8,474.9 287.3,468.7 282.5,463.8 C277.7,458.9 271.6,454.0 268.0,451.0 C264.4,448.0 262.0,447.5 260.6,446.0 C259.2,444.5 258.4,442.9 259.6,441.9Z" fill="none" stroke="#f9a2dc" stroke-width="2.2" stroke-linejoin="round"/>
<path d="M622.0,480.0 C624.3,471.3 626.5,470.7 632.0,468.0 C637.5,465.3 647.0,464.3 655.0,464.0 C663.0,463.7 673.5,463.7 680.0,466.0 C686.5,468.3 690.2,474.0 694.0,478.0 C697.8,482.0 700.5,485.7 703.0,490.0 C705.5,494.3 708.2,498.7 709.0,504.0 C709.8,509.3 709.2,515.5 708.0,522.0 C706.8,528.5 704.7,537.5 702.0,542.8 C699.3,548.0 695.4,549.8 691.7,553.5 C688.0,557.2 684.2,561.3 680.0,565.2 C675.8,569.1 670.9,573.4 666.4,576.8 C661.9,580.2 657.2,583.4 652.8,585.6 C648.4,587.8 643.8,590.9 640.0,590.0 C636.2,589.1 633.7,591.7 630.0,580.0 C626.3,568.3 619.3,536.7 618.0,520.0 C616.7,503.3 619.7,488.7 622.0,480.0Z" fill="#a8409e"/>
<path d="M633.3,482.5 C637.8,479.8 635.5,481.0 641.0,480.6 C646.5,480.2 650.3,479.7 656.7,480.6 C663.1,481.5 663.3,481.7 668.3,484.4 C673.3,487.1 674.6,488.1 678.0,492.2 C681.4,496.3 681.4,496.5 683.0,502.0 C684.6,507.5 684.9,509.3 684.9,515.6 C684.9,521.9 684.6,522.4 683.0,529.2 C681.4,536.0 681.0,537.9 678.0,544.7 C675.0,551.5 674.4,551.9 670.3,558.3 C666.2,564.7 665.1,566.5 660.6,572.0 C656.1,577.5 655.8,577.6 650.8,581.7 C645.8,585.8 644.6,586.7 639.2,589.4 C633.8,592.1 633.4,592.8 627.5,593.3 C621.6,593.8 620.2,593.0 613.9,591.4 C607.6,589.8 606.2,589.2 600.3,586.5 C594.4,583.8 592.2,582.4 588.6,579.7 C585.0,577.0 585.1,577.2 584.7,574.9 C584.3,572.6 584.4,572.5 586.7,570.0 C589.0,567.5 591.5,567.4 594.4,564.2 C597.3,561.0 598.2,561.4 599.3,556.4 C600.4,551.4 599.7,549.1 599.3,542.8 C598.9,536.5 597.8,535.1 597.4,529.2 C597.0,523.3 596.7,522.1 597.4,517.5 C598.1,512.9 597.4,513.3 600.3,509.7 C603.2,506.1 605.0,506.1 610.0,502.0 C615.0,497.9 616.3,496.8 621.7,492.2 C627.1,487.6 628.8,485.2 633.3,482.5Z" fill="#f68ccc" stroke="#000" stroke-width="1.5" stroke-linejoin="round"/>
<path d="M634.3,485.4 C642.0,482.7 649.2,483.9 656.7,484.4 C664.2,484.9 662.1,485.1 666.4,487.4 C670.7,489.7 672.1,490.6 675.1,494.2 C678.1,497.8 678.0,497.9 679.4,502.9 C680.8,507.9 681.1,509.5 681.0,515.6 C680.9,521.7 680.6,522.6 679.0,529.2 C677.4,535.8 677.0,537.3 674.2,543.7 C671.4,550.1 670.7,550.8 666.8,556.8 C662.9,562.8 661.8,564.5 657.6,569.6 C653.4,574.7 653.4,574.9 648.9,578.7 C644.4,582.5 643.2,583.4 638.2,585.9 C633.2,588.4 632.9,589.0 627.5,589.4 C622.1,589.8 620.8,589.0 614.9,587.5 C609.0,586.0 607.2,585.3 602.2,583.0 C597.2,580.7 596.0,579.7 593.5,577.8 C591.0,575.9 590.8,577.0 591.5,574.9 C592.2,572.8 593.9,572.9 596.4,569.0 C598.9,565.1 600.5,564.4 602.2,558.3 C603.9,552.2 603.8,549.6 603.8,542.8 C603.8,536.0 602.6,534.9 602.2,529.2 C601.8,523.5 601.5,522.6 602.2,518.5 C602.9,514.4 602.6,514.9 605.1,511.7 C607.6,508.5 608.6,508.5 612.9,504.9 C617.2,501.3 618.6,500.7 623.6,496.1 C628.6,491.6 626.6,488.1 634.3,485.4Z" fill="url(#pk2)" stroke="#000" stroke-width="1.3" stroke-linejoin="round"/>
<g fill="url(#sg)" stroke="#000" stroke-width="1.5">
<rect x="733.2" y="620.0" width="21.0" height="20.0" rx="9.7" ry="9.2"/>
<rect x="710.5" y="612.5" width="21.0" height="20.0" rx="9.7" ry="9.2"/>
<rect x="687.7" y="604.5" width="22.0" height="21.0" rx="10.1" ry="9.7"/>
<rect x="665.0" y="596.7" width="22.0" height="21.0" rx="10.1" ry="9.7"/>
<rect x="637.3" y="585.7" width="27.4" height="25.6" rx="12.6" ry="11.8"/>
</g>
<path d="M124.0,424.0 L127.5,430.2 L126.0,436.7 L126.6,439.1 L127.8,440.9 L131.8,443.2 L137.7,443.1 L140.1,444.0 L141.7,445.8 L144.2,451.2 L146.7,453.4 L150.0,454.9 L155.0,455.7 L160.0,454.9 L164.2,452.7 L167.7,449.4 L170.0,448.7 L172.3,449.2 L176.6,452.5 L180.2,454.1 L184.4,454.8 L188.7,454.7 L193.9,453.1 L199.0,449.3 L201.8,448.6 L204.5,449.6 L207.6,453.1 L210.6,455.2 L214.3,456.5 L218.4,457.0 L223.8,456.1 L229.1,453.1 L231.9,448.7 L231.8,443.3 L232.9,440.7 L234.8,439.2 L241.9,436.9 L246.7,432.6 L250.1,432.3 L254.2,434.6 L257.1,435.5 L263.2,435.0 L265.9,433.7 L268.3,431.3 L269.3,429.1 L269.8,425.6 L271.5,423.2 L278.1,421.6 L282.4,419.7 L285.3,419.9 L289.8,423.1 L294.1,424.2 L298.6,423.8 L303.3,421.3 L305.7,421.0 L308.7,422.5 L311.7,427.2 L317.6,430.8 L318.6,433.6 L317.6,438.3 L318.3,441.1 L321.3,444.1 L325.1,445.7 L331.6,445.7 L334.5,444.6 L337.9,442.4 L340.3,442.0 L342.5,442.7 L345.4,445.2 L348.3,446.7 L355.4,447.6 L361.0,446.3 L365.8,442.8 L368.5,442.0 L370.8,442.6 L374.1,445.6 L376.8,447.1 L383.6,448.1 L389.1,446.7 L393.9,443.0 L396.3,442.4 L399.0,443.3 L404.0,447.9 L410.0,449.4 L415.1,448.3 L420.0,444.7 L422.8,444.0 L425.9,445.3 L429.2,449.7 L432.1,451.8 L435.9,453.2 L440.0,453.6 L445.4,452.8 L452.0,449.0 L454.9,448.6 L457.5,449.9 L461.5,455.2 L465.8,457.4 L469.6,458.2 L473.5,458.0 L477.1,457.0 L481.1,454.8 L483.5,454.6 L486.4,456.2 L489.8,461.3 L493.8,463.7 L498.7,464.8 L506.1,463.9 L508.6,464.3 L510.5,465.8 L512.2,469.5 L514.1,471.9 L519.6,474.9 L523.6,475.7 L527.7,475.5 L536.7,472.8 L539.8,474.2 L541.8,477.4 L544.0,479.6 L549.4,481.9 L555.9,482.1 L563.0,479.7 L565.4,479.8 L568.2,481.9 L570.7,487.6 L574.1,490.3 L578.4,491.7 L582.0,491.9 L585.6,491.2 L589.8,489.2 L592.7,489.3 L595.0,491.0 L596.8,495.4 L599.3,498.5 L603.4,500.7 L607.1,501.5 L613.3,500.7 L616.3,499.2 L618.8,497.1 L620.3,494.5 L620.8,491.7 L620.3,488.9 L618.6,485.3 L619.1,482.0 L621.0,479.9 L626.9,477.3 L630.5,473.8 L633.9,473.4 L638.8,475.8 L643.5,476.4 L648.7,474.6 L652.5,469.9 L654.7,468.7 L657.1,468.7 L661.2,470.2 L664.1,470.6 L672.6,469.0 L679.1,473.2 L682.0,473.3 L686.5,472.0 L689.3,472.9 L690.9,474.8 L691.8,478.9 L693.0,481.1 L696.3,483.8 L702.0,485.9 L703.4,488.0 L704.2,491.8 L707.8,495.8 L708.1,498.1 L707.2,502.4 L707.9,504.3 L710.5,507.5 L710.8,510.8 L706.9,518.4 L698.8,521.7 L694.6,525.6 L693.7,528.3 L693.9,531.0 L695.3,533.7 L697.8,536.0 L702.5,538.2 L706.9,539.0 L711.3,538.8 L718.1,536.7 L720.5,536.9 L722.6,538.1 L725.4,542.6 L728.7,545.2 L733.4,546.7 L738.4,546.7 L742.9,545.3 L745.7,543.3 L747.8,540.2 L748.5,536.1 L749.4,534.4 L757.4,529.9 L759.5,527.6 L760.4,525.1 L760.2,522.4 L758.9,519.9 L756.4,517.7 L751.9,515.3 L750.3,512.8 L750.3,509.8 L753.6,504.9 L754.1,501.8 L752.9,498.7 L749.5,495.1 L748.9,492.2 L749.6,489.9 L752.4,486.2 L752.7,483.4 L751.8,480.9 L750.2,479.2 L744.6,476.7 L742.8,475.0 L742.0,472.2 L743.1,468.0 L741.7,465.6 L738.7,464.1 L735.0,463.7 L731.6,464.6 L728.2,466.6 L726.3,466.8 L724.4,466.3 L720.6,463.6 L716.7,462.8 L708.7,464.6 L706.0,463.3 L703.4,457.9 L699.7,455.3 L694.4,454.1 L687.5,454.9 L685.0,454.6 L682.3,451.7 L682.3,445.0 L681.1,442.8 L679.1,440.8 L673.7,438.5 L665.8,438.4 L663.9,437.7 L659.1,432.0 L655.8,430.4 L651.2,429.6 L649.2,428.4 L648.0,426.3 L647.1,422.2 L645.0,419.7 L641.6,418.0 L636.7,416.8 L634.4,414.4 L633.1,407.8 L634.3,404.7 L636.2,403.3 L640.9,401.8 L645.3,397.1 L650.2,396.5 L652.5,395.5 L654.2,393.6 L655.4,389.9 L657.6,387.9 L664.8,386.7 L668.6,383.2 L670.3,382.4 L677.6,382.7 L683.3,380.0 L690.9,381.7 L693.5,381.3 L697.6,379.5 L701.6,380.4 L702.7,379.9 L703.7,377.8 L703.0,375.4 L701.8,374.6 L698.2,374.9 L696.1,373.8 L694.5,371.3 L694.3,367.3 L691.6,365.5 L685.2,367.0 L680.6,364.6 L677.8,364.2 L675.6,364.8 L671.5,367.7 L663.5,366.3 L660.7,367.0 L657.6,369.0 L655.7,369.3 L652.1,367.6 L649.5,362.8 L645.3,361.7 L638.5,364.6 L632.9,363.0 L628.7,363.4 L626.3,365.1 L624.1,369.6 L622.4,370.6 L619.9,370.8 L613.2,369.2 L611.5,367.5 L610.1,364.0 L606.9,362.3 L603.7,362.2 L599.7,363.7 L597.3,363.8 L595.2,362.8 L592.0,359.8 L587.5,358.8 L584.0,359.3 L580.3,361.3 L577.9,361.4 L575.7,360.4 L572.9,357.2 L569.8,356.3 L567.0,356.6 L563.5,358.1 L561.0,358.0 L558.9,356.7 L556.0,353.1 L553.0,352.2 L547.4,351.7 L545.5,350.2 L543.3,346.2 L540.9,345.2 L538.0,345.1 L534.8,346.4 L531.6,350.2 L526.3,351.3 L524.3,353.2 L524.5,355.4 L527.6,358.5 L528.4,363.2 L531.0,365.9 L531.9,368.3 L531.0,371.6 L525.9,377.4 L523.6,378.0 L518.4,377.0 L513.7,377.5 L509.9,379.3 L507.3,383.1 L505.3,384.6 L503.3,384.9 L496.6,384.2 L489.1,387.4 L486.3,386.9 L482.8,384.0 L480.4,382.9 L476.7,382.4 L473.9,382.7 L471.2,383.6 L468.7,385.6 L467.4,387.9 L466.6,392.0 L464.0,394.2 L461.2,394.4 L455.9,392.3 L451.3,391.9 L447.0,392.9 L442.3,396.1 L439.9,396.7 L437.1,395.8 L433.7,391.7 L430.1,389.6 L426.6,388.7 L420.7,388.8 L418.4,388.1 L416.6,386.4 L415.0,382.9 L411.9,381.2 L408.5,380.8 L405.7,381.4 L399.8,385.8 L397.9,385.9 L395.7,385.0 L392.4,379.9 L388.2,377.2 L386.8,375.2 L387.0,370.1 L386.3,365.8 L387.0,364.0 L389.3,361.3 L389.8,358.7 L388.1,355.6 L384.9,353.7 L381.7,353.2 L378.5,353.7 L373.7,356.9 L371.4,357.5 L369.1,357.1 L364.5,354.0 L360.9,353.3 L357.2,353.5 L351.7,356.0 L349.3,356.1 L344.1,352.6 L340.0,351.6 L335.0,352.3 L330.9,355.1 L328.6,355.7 L326.2,355.2 L321.1,352.1 L315.6,351.7 L312.3,352.7 L308.0,356.2 L305.7,356.9 L303.7,356.6 L298.0,353.9 L293.0,353.8 L287.8,355.7 L284.3,360.1 L282.2,361.3 L279.7,361.4 L275.7,359.8 L272.5,359.5 L268.3,360.9 L265.3,364.3 L263.2,365.5 L260.7,365.6 L255.8,364.1 L251.9,364.6 L249.0,366.3 L246.1,370.3 L243.9,371.3 L235.8,369.5 L227.6,371.5 L225.3,370.6 L221.7,367.5 L219.1,367.1 L216.2,367.7 L214.2,369.4 L214.5,373.9 L212.3,376.9 L209.0,378.0 L203.0,375.9 L200.3,375.9 L197.8,376.7 L195.3,379.1 L194.8,382.8 L193.6,384.9 L188.0,387.7 L184.6,390.7 L181.8,391.0 L176.9,388.7 L172.7,388.4 L169.1,389.7 L166.5,393.1 L164.8,394.1 L162.9,394.4 L158.6,393.8 L155.7,394.8 L154.6,396.8 L156.1,399.7 L156.3,401.6 L155.0,404.6 L151.5,406.2 L146.6,405.0 L143.4,405.0 L139.1,406.8 L137.2,409.2 L136.8,413.3 L135.3,415.7 L133.6,416.7 L128.3,417.8 L124.8,420.5Z" fill="#f0921a"/>
<path d="M150,424 L175,408 L230,397 L262,387 L262,398 L230,408 L190,423 L160,428Z" fill="#ffc62a"/>
<path d="M232,383 L262,374 L275,385 L262,395 L240,393Z" fill="#ffc62a"/>
<g fill="url(#sg)" stroke="#000" stroke-width="1.5"><rect x="722.5" y="374.4" width="18.3" height="12.8" rx="7.3" ry="5.1"/><rect x="739.3" y="382.0" width="14.7" height="11.0" rx="5.9" ry="4.4"/></g>
<path d="M638.3,411.7 C638.8,408.4 641.0,406.4 643.0,404.0 C645.0,401.6 646.7,400.0 650.0,397.5 C653.3,395.0 658.0,391.2 663.0,389.0 C668.0,386.8 673.8,385.1 680.0,384.0 C686.2,382.9 693.3,382.5 700.0,382.5 C706.7,382.5 713.9,382.9 720.0,384.0 C726.1,385.1 732.2,386.9 736.7,389.0 C741.2,391.1 744.1,393.8 746.7,396.7 C749.3,399.6 751.2,402.8 752.5,406.7 C753.8,410.6 754.3,415.6 754.5,420.0 C754.7,424.4 754.3,428.7 753.5,433.0 C752.7,437.3 751.4,442.0 749.5,446.0 C747.6,450.0 744.9,454.1 742.0,457.0 C739.1,459.9 735.7,462.1 732.0,463.5 C728.3,464.9 724.3,465.1 720.0,465.5 C715.7,465.9 711.3,467.2 706.0,466.0 C700.7,464.8 693.0,460.7 688.0,458.0 C683.0,455.3 680.3,452.3 676.0,450.0 C671.7,447.7 666.7,446.3 662.0,444.0 C657.3,441.7 651.7,439.3 648.0,436.0 C644.3,432.7 641.6,428.1 640.0,424.0 C638.4,419.9 637.8,415.0 638.3,411.7Z" fill="url(#gr)" stroke="#000" stroke-width="1.7" stroke-linejoin="round"/>
<path d="M381.0,382.0 C376.9,377.7 382.5,378.9 385.8,371.7 C389.1,364.5 389.1,362.4 393.3,355.0 C397.5,347.6 398.6,349.1 401.7,344.0 C404.8,338.9 403.2,339.7 405.0,335.8 C406.8,331.9 406.3,332.4 408.5,329.5 C410.7,326.6 409.4,326.7 413.3,325.0 C417.2,323.3 418.4,323.6 423.3,323.3 C428.2,323.0 427.9,324.9 431.7,324.0 C435.5,323.1 434.4,321.8 437.5,320.0 C440.6,318.2 438.6,318.0 443.3,317.3 C448.0,316.6 450.5,316.6 455.0,317.3 C459.5,318.0 456.0,319.1 460.0,320.0 C464.0,320.9 463.8,319.7 470.0,320.6 C476.2,321.5 476.2,321.1 483.3,323.3 C490.4,325.5 490.0,325.2 496.7,329.0 C503.4,332.8 503.0,332.8 508.3,337.5 C513.6,342.2 513.1,341.6 516.7,346.7 C520.3,351.8 519.5,351.4 521.7,356.7 C523.9,362.0 523.6,362.1 525.0,366.7 C526.4,371.3 526.2,370.2 527.0,374.0 C527.8,377.8 534.4,377.8 528.0,381.0 C521.6,384.2 518.5,381.5 503.0,386.0 C487.5,390.5 486.0,394.3 470.0,398.0 C454.0,401.7 461.4,402.7 443.0,400.0 C424.6,397.3 417.5,392.8 401.0,388.0 C384.5,383.2 385.1,386.3 381.0,382.0Z" fill="#e41c02" stroke="#000" stroke-width="1.5" stroke-linejoin="round"/>
<path d="M405,336 C407,330 410,326.5 413.3,325 C418,323 427,323.5 431.7,324 C434,322.5 436,320.5 438.5,319.3 C442,317.3 452,316.8 456,317.8 C458,318.5 459.5,319.5 460.3,320.6 C456,323 452.5,328 451.7,333.3 L450,336.7 L441.7,335.8 C437,338 432,341.5 428.3,345 L425.8,345 C423,341.5 418,339.5 413.3,340 C409,340.5 405,342 401.5,344.5Z" fill="url(#rdB)" stroke="#000" stroke-width="1.3" stroke-linejoin="round"/>
<path d="M450,336.7 L451.7,333.3 C452,328 455.5,323 460.3,320.6 C464,320 475,321 483.3,323.3 C488,324.5 493,327 496.7,329 C501,331.5 505,334.5 508.3,337.5 C511.5,340.5 514.5,343.5 516.7,346.7 C518.8,350 520.5,353.5 521.7,356.7 L525,366.7 L527,374 L528.5,381.5 L506,385 C496,376 482,364 470,353.3Z" fill="url(#rd3)" stroke="#000" stroke-width="1.4" stroke-linejoin="round"/>
<path d="M425.8,345 L428.3,345 C432,341.5 437,338 441.7,335.8 L450,336.7 L470,353.3 C482,364 496,376 506,385 L472,399 L447,400 C440,392 432,380 428.5,372 C425,366 424,360 424,355Z" fill="url(#rd2)" stroke="#000" stroke-width="1.4" stroke-linejoin="round"/>
<path d="M381,383 C383,378 384.5,375 385.8,371.7 L393.3,355 C396,350.5 399,347 401.5,344.5 C405,342 409,340.5 413.3,340 C418,339.5 423,341.5 425.8,345 L424,355 C424,360 425,366 428.5,372 C432,380 440,392 447,400 L401,389Z" fill="url(#rd1)" stroke="#000" stroke-width="1.4" stroke-linejoin="round"/>
<g fill="url(#sg)" stroke="#000" stroke-width="1.5">
<rect x="531.8" y="343.3" width="14.7" height="10.1" rx="5.9" ry="4.1"/>
<rect x="522.3" y="349.1" width="12.1" height="10.2" rx="4.8" ry="4.1"/>
<rect x="543.4" y="350.3" width="16.5" height="11.0" rx="6.6" ry="4.4"/>
<rect x="306.8" y="349.9" width="21.5" height="15.2" rx="8.6" ry="6.1"/>
<rect x="328.8" y="349.9" width="20.7" height="15.3" rx="8.3" ry="6.1"/>
<rect x="561.8" y="354.5" width="14.7" height="11.1" rx="5.9" ry="4.4"/>
<rect x="349.2" y="351.6" width="21.5" height="15.2" rx="8.6" ry="6.1"/>
<rect x="371.7" y="351.5" width="19.8" height="15.3" rx="7.9" ry="6.1"/>
<rect x="526.4" y="357.5" width="15.6" height="10.1" rx="6.2" ry="4.0"/>
<rect x="283.4" y="352.0" width="23.1" height="16.0" rx="9.3" ry="6.4"/>
<rect x="578.8" y="357.0" width="17.3" height="10.9" rx="6.9" ry="4.4"/>
<rect x="638.9" y="359.9" width="13.9" height="10.2" rx="5.5" ry="4.1"/>
<rect x="597.2" y="360.3" width="15.6" height="11.0" rx="6.2" ry="4.4"/>
<rect x="263.8" y="357.8" width="19.0" height="14.5" rx="7.6" ry="5.8"/>
<rect x="623.9" y="361.2" width="15.6" height="11.0" rx="6.2" ry="4.4"/>
<rect x="671.8" y="362.4" width="13.0" height="10.2" rx="5.2" ry="4.1"/>
<rect x="543.4" y="360.8" width="18.2" height="11.8" rx="7.3" ry="4.7"/>
<rect x="685.2" y="363.7" width="11.2" height="9.3" rx="4.5" ry="3.7"/>
<rect x="212.2" y="365.4" width="13.9" height="9.2" rx="5.5" ry="3.7"/>
<rect x="656.4" y="364.5" width="15.6" height="11.0" rx="6.2" ry="4.4"/>
<rect x="563.4" y="364.9" width="16.5" height="11.9" rx="6.6" ry="4.8"/>
<rect x="374.5" y="363.9" width="14.4" height="13.3" rx="5.8" ry="5.3"/>
<rect x="245.5" y="362.3" width="19.0" height="15.4" rx="7.6" ry="6.2"/>
<rect x="580.1" y="366.1" width="18.2" height="12.7" rx="7.3" ry="5.1"/>
<rect x="314.2" y="364.9" width="21.5" height="15.2" rx="8.6" ry="6.1"/>
<rect x="607.6" y="368.2" width="16.5" height="11.9" rx="6.6" ry="4.8"/>
<rect x="642.2" y="369.9" width="17.3" height="11.8" rx="6.9" ry="4.7"/>
<rect x="226.3" y="367.8" width="19.0" height="14.5" rx="7.6" ry="5.8"/>
<rect x="358.4" y="367.8" width="19.8" height="14.4" rx="7.9" ry="5.8"/>
<rect x="697.9" y="372.8" width="7.5" height="9.3" rx="3.0" ry="3.7"/>
<rect x="626.3" y="370.7" width="17.3" height="11.8" rx="6.9" ry="4.7"/>
<rect x="526.4" y="368.7" width="23.9" height="14.2" rx="10.3" ry="6.1"/>
<rect x="290.9" y="366.5" width="23.1" height="16.9" rx="9.3" ry="6.8"/>
<rect x="682.6" y="371.6" width="16.5" height="11.9" rx="6.6" ry="4.8"/>
<rect x="271.3" y="370.3" width="19.0" height="14.5" rx="7.6" ry="5.8"/>
<rect x="550.9" y="373.7" width="18.2" height="10.9" rx="7.3" ry="4.4"/>
<rect x="668.0" y="373.7" width="15.6" height="11.0" rx="6.2" ry="4.4"/>
<rect x="338.0" y="369.4" width="20.7" height="16.2" rx="8.3" ry="6.5"/>
<rect x="209.2" y="372.7" width="18.2" height="14.5" rx="7.3" ry="5.8"/>
<rect x="193.0" y="374.0" width="17.3" height="13.7" rx="6.9" ry="5.5"/>
<rect x="253.4" y="374.4" width="18.2" height="14.5" rx="7.3" ry="5.8"/>
<rect x="571.8" y="375.7" width="18.2" height="13.6" rx="7.3" ry="5.5"/>
<rect x="652.2" y="377.4" width="17.3" height="11.8" rx="6.9" ry="4.7"/>
<rect x="506.3" y="375.4" width="22.3" height="14.3" rx="8.9" ry="5.7"/>
<rect x="633.9" y="378.7" width="15.6" height="11.0" rx="6.2" ry="4.4"/>
<rect x="375.1" y="376.1" width="19.8" height="14.4" rx="7.9" ry="5.8"/>
<rect x="354.3" y="381.2" width="14.7" height="9.2" rx="5.9" ry="3.7"/>
<rect x="590.1" y="375.8" width="23.1" height="15.1" rx="9.3" ry="6.0"/>
<rect x="400.5" y="379.1" width="17.3" height="11.8" rx="6.9" ry="4.7"/>
<rect x="378.3" y="375.8" width="17.5" height="15.3" rx="7.0" ry="6.1"/>
<rect x="233.0" y="378.6" width="19.0" height="14.5" rx="7.6" ry="5.8"/>
<rect x="322.6" y="380.3" width="18.2" height="12.7" rx="7.3" ry="5.1"/>
<rect x="544.7" y="379.9" width="20.7" height="13.5" rx="8.3" ry="5.4"/>
<rect x="529.7" y="381.1" width="15.6" height="12.8" rx="6.2" ry="5.1"/>
<rect x="614.2" y="380.2" width="18.2" height="14.5" rx="7.3" ry="5.8"/>
<rect x="218.0" y="383.6" width="15.6" height="12.8" rx="6.2" ry="5.1"/>
<rect x="184.2" y="384.5" width="18.2" height="12.7" rx="7.3" ry="5.1"/>
<rect x="270.5" y="382.8" width="20.7" height="14.4" rx="8.3" ry="5.8"/>
<rect x="488.0" y="382.4" width="20.7" height="15.3" rx="8.3" ry="6.1"/>
<rect x="465.5" y="380.7" width="22.3" height="17.0" rx="8.9" ry="6.8"/>
<rect x="165.5" y="386.6" width="17.3" height="11.8" rx="6.9" ry="4.7"/>
<rect x="202.6" y="384.8" width="16.5" height="13.7" rx="6.6" ry="5.5"/>
<rect x="640.1" y="384.8" width="16.5" height="13.7" rx="6.6" ry="5.5"/>
<rect x="567.6" y="386.2" width="19.8" height="12.6" rx="7.9" ry="5.1"/>
<rect x="515.1" y="388.2" width="16.5" height="11.9" rx="6.6" ry="4.8"/>
<rect x="589.2" y="387.4" width="21.5" height="13.4" rx="8.6" ry="5.4"/>
<rect x="294.7" y="385.2" width="20.7" height="16.2" rx="8.3" ry="6.5"/>
<rect x="152.7" y="392.0" width="13.0" height="9.3" rx="5.2" ry="3.7"/>
<rect x="316.3" y="391.1" width="17.3" height="12.8" rx="6.9" ry="5.1"/>
<rect x="385.9" y="387.4" width="23.1" height="16.9" rx="9.3" ry="6.8"/>
<rect x="531.8" y="392.3" width="14.7" height="12.0" rx="5.9" ry="4.8"/>
<rect x="628.4" y="391.9" width="16.5" height="12.8" rx="6.6" ry="5.1"/>
<rect x="360.1" y="388.7" width="23.1" height="16.0" rx="9.3" ry="6.4"/>
<rect x="497.6" y="391.1" width="18.2" height="14.5" rx="7.3" ry="5.8"/>
<rect x="545.9" y="390.8" width="23.1" height="15.1" rx="9.3" ry="6.0"/>
<rect x="334.7" y="389.1" width="23.9" height="16.8" rx="10.3" ry="7.2"/>
<rect x="493.4" y="393.7" width="21.5" height="12.5" rx="8.6" ry="5.0"/>
<rect x="611.8" y="393.6" width="18.2" height="12.7" rx="7.3" ry="5.1"/>
<rect x="410.6" y="387.1" width="27.1" height="19.2" rx="11.6" ry="8.3"/>
<rect x="212.2" y="394.9" width="19.0" height="11.8" rx="7.6" ry="4.7"/>
<rect x="239.7" y="394.4" width="13.9" height="12.9" rx="5.5" ry="5.2"/>
<rect x="192.6" y="395.3" width="18.2" height="12.7" rx="7.3" ry="5.1"/>
<rect x="255.1" y="392.8" width="21.5" height="16.1" rx="8.6" ry="6.5"/>
<rect x="279.2" y="395.3" width="21.5" height="14.3" rx="8.6" ry="5.7"/>
<rect x="439.7" y="390.3" width="25.5" height="19.4" rx="11.0" ry="8.3"/>
<rect x="175.1" y="395.6" width="18.2" height="15.4" rx="7.3" ry="6.2"/>
<rect x="515.5" y="398.2" width="19.0" height="13.6" rx="7.6" ry="5.4"/>
<rect x="568.8" y="396.6" width="22.3" height="15.2" rx="8.9" ry="6.1"/>
<rect x="154.7" y="398.6" width="19.0" height="14.5" rx="7.6" ry="5.8"/>
<rect x="590.9" y="398.7" width="23.1" height="16.0" rx="9.3" ry="6.4"/>
<rect x="466.4" y="396.6" width="25.5" height="18.5" rx="11.0" ry="7.9"/>
<rect x="300.1" y="400.3" width="21.5" height="16.1" rx="8.6" ry="6.5"/>
<rect x="534.3" y="402.9" width="23.1" height="14.2" rx="9.3" ry="5.7"/>
<rect x="320.5" y="402.0" width="22.3" height="16.1" rx="8.9" ry="6.4"/>
<rect x="135.1" y="403.2" width="19.8" height="15.3" rx="7.9" ry="6.1"/>
<rect x="341.8" y="401.6" width="24.7" height="16.8" rx="10.6" ry="7.2"/>
<rect x="195.5" y="405.7" width="17.3" height="13.7" rx="6.9" ry="5.5"/>
<rect x="368.4" y="402.4" width="23.1" height="16.9" rx="9.3" ry="6.8"/>
<rect x="614.2" y="404.1" width="21.5" height="15.2" rx="8.6" ry="6.1"/>
<rect x="165.1" y="408.2" width="14.7" height="12.0" rx="5.9" ry="4.8"/>
<rect x="180.5" y="408.2" width="15.6" height="11.9" rx="6.2" ry="4.8"/>
<rect x="393.4" y="402.8" width="23.1" height="17.8" rx="9.3" ry="7.1"/>
<rect x="418.6" y="402.9" width="27.9" height="19.2" rx="12.0" ry="8.2"/>
<rect x="490.2" y="404.1" width="26.3" height="18.4" rx="11.3" ry="7.9"/>
<rect x="212.2" y="405.2" width="22.3" height="17.9" rx="8.9" ry="7.1"/>
<rect x="236.4" y="405.3" width="23.9" height="17.7" rx="10.3" ry="7.6"/>
<rect x="556.8" y="408.3" width="23.1" height="15.1" rx="9.3" ry="6.0"/>
<rect x="262.6" y="406.1" width="23.1" height="17.8" rx="9.3" ry="7.1"/>
<rect x="495.9" y="404.2" width="19.8" height="19.8" rx="7.9" ry="7.9"/>
<rect x="447.2" y="407.9" width="25.5" height="17.6" rx="11.0" ry="7.6"/>
<rect x="284.2" y="410.7" width="21.5" height="15.2" rx="8.6" ry="6.1"/>
<rect x="603.4" y="415.3" width="16.5" height="11.0" rx="6.6" ry="4.4"/>
<rect x="580.5" y="412.0" width="23.9" height="16.0" rx="10.3" ry="6.9"/>
<rect x="515.6" y="410.8" width="25.5" height="18.5" rx="11.0" ry="7.9"/>
<rect x="475.1" y="414.5" width="23.1" height="16.0" rx="9.3" ry="6.4"/>
<rect x="122.2" y="415.2" width="20.7" height="16.2" rx="8.3" ry="6.5"/>
<rect x="308.0" y="415.3" width="22.3" height="16.1" rx="8.9" ry="6.4"/>
<rect x="330.9" y="416.6" width="21.5" height="15.2" rx="8.6" ry="6.1"/>
<rect x="353.0" y="416.6" width="23.9" height="16.8" rx="10.3" ry="7.2"/>
<rect x="379.3" y="416.5" width="23.1" height="16.9" rx="9.3" ry="6.8"/>
<rect x="143.8" y="417.7" width="20.7" height="16.2" rx="8.3" ry="6.5"/>
<rect x="404.3" y="417.4" width="23.1" height="16.9" rx="9.3" ry="6.8"/>
<rect x="625.5" y="415.7" width="23.9" height="18.6" rx="10.3" ry="8.0"/>
<rect x="429.4" y="417.5" width="27.9" height="18.3" rx="12.0" ry="7.9"/>
<rect x="541.4" y="418.2" width="23.9" height="18.6" rx="10.3" ry="8.0"/>
<rect x="247.2" y="417.7" width="23.9" height="19.5" rx="10.3" ry="8.4"/>
<rect x="164.7" y="419.1" width="25.5" height="18.5" rx="11.0" ry="7.9"/>
<rect x="191.8" y="419.1" width="26.3" height="18.4" rx="11.3" ry="7.9"/>
<rect x="498.4" y="423.7" width="23.1" height="14.2" rx="9.3" ry="5.7"/>
<rect x="458.1" y="422.5" width="25.5" height="16.7" rx="11.0" ry="7.2"/>
<rect x="220.6" y="419.5" width="27.1" height="21.0" rx="11.6" ry="9.0"/>
<rect x="598.0" y="424.9" width="22.3" height="17.0" rx="8.9" ry="6.8"/>
<rect x="522.6" y="429.6" width="24.7" height="14.1" rx="10.6" ry="6.1"/>
<rect x="565.6" y="424.5" width="25.5" height="19.4" rx="11.0" ry="8.3"/>
<rect x="124.2" y="428.1" width="19.8" height="17.1" rx="7.9" ry="6.9"/>
<rect x="639.7" y="428.2" width="23.9" height="16.8" rx="10.3" ry="7.2"/>
<rect x="483.9" y="430.0" width="25.5" height="16.7" rx="11.0" ry="7.2"/>
<rect x="316.0" y="429.1" width="24.7" height="18.6" rx="10.6" ry="8.0"/>
<rect x="340.6" y="430.8" width="27.1" height="18.4" rx="11.6" ry="7.9"/>
<rect x="617.6" y="434.0" width="19.8" height="15.3" rx="7.9" ry="6.1"/>
<rect x="369.3" y="430.4" width="26.3" height="19.3" rx="11.3" ry="8.3"/>
<rect x="397.6" y="430.7" width="24.7" height="20.3" rx="10.6" ry="8.7"/>
<rect x="550.1" y="438.7" width="23.1" height="16.0" rx="9.3" ry="6.4"/>
<rect x="424.9" y="431.7" width="30.2" height="23.3" rx="13.0" ry="10.0"/>
<rect x="506.8" y="437.9" width="26.3" height="17.5" rx="11.3" ry="7.5"/>
<rect x="170.4" y="433.8" width="30.9" height="22.3" rx="13.3" ry="9.6"/>
<rect x="656.1" y="436.7" width="27.9" height="20.0" rx="12.0" ry="8.6"/>
<rect x="140.7" y="434.6" width="28.6" height="22.6" rx="12.3" ry="9.7"/>
<rect x="203.3" y="435.0" width="30.2" height="23.3" rx="13.0" ry="10.0"/>
<rect x="594.3" y="437.7" width="23.1" height="21.4" rx="9.3" ry="8.5"/>
<rect x="638.0" y="444.0" width="19.0" height="15.4" rx="7.6" ry="6.2"/>
<rect x="456.5" y="437.1" width="28.6" height="22.6" rx="12.3" ry="9.7"/>
<rect x="573.4" y="447.0" width="23.1" height="16.0" rx="9.3" ry="6.4"/>
<rect x="532.2" y="445.4" width="25.5" height="17.6" rx="11.0" ry="7.6"/>
<rect x="618.4" y="449.5" width="19.8" height="14.4" rx="7.9" ry="5.8"/>
<rect x="485.7" y="445.4" width="28.6" height="20.8" rx="12.3" ry="9.0"/>
<rect x="680.6" y="452.5" width="25.5" height="16.7" rx="11.0" ry="7.2"/>
<rect x="558.0" y="453.6" width="23.9" height="17.7" rx="10.3" ry="7.6"/>
<rect x="652.6" y="454.4" width="23.1" height="17.8" rx="9.3" ry="7.1"/>
<rect x="726.8" y="462.0" width="18.2" height="12.7" rx="7.3" ry="5.1"/>
<rect x="673.0" y="461.5" width="15.6" height="13.8" rx="6.2" ry="5.5"/>
<rect x="509.9" y="454.6" width="30.2" height="22.4" rx="13.0" ry="9.6"/>
<rect x="706.7" y="461.0" width="19.8" height="16.2" rx="7.9" ry="6.5"/>
<rect x="631.3" y="460.2" width="22.3" height="17.9" rx="8.9" ry="7.1"/>
<rect x="582.2" y="461.6" width="25.5" height="18.5" rx="11.0" ry="7.9"/>
<rect x="606.8" y="462.0" width="24.7" height="19.4" rx="10.6" ry="8.4"/>
<rect x="539.0" y="462.9" width="28.6" height="20.8" rx="12.3" ry="9.0"/>
<rect x="689.7" y="466.8" width="22.3" height="19.6" rx="8.9" ry="7.9"/>
<rect x="713.4" y="475.6" width="19.8" height="17.1" rx="7.9" ry="6.9"/>
<rect x="732.2" y="475.2" width="22.3" height="17.9" rx="8.9" ry="7.1"/>
<rect x="567.3" y="471.6" width="27.1" height="21.8" rx="11.6" ry="9.4"/>
<rect x="701.8" y="484.0" width="14.7" height="12.0" rx="5.9" ry="4.8"/>
<rect x="594.4" y="480.3" width="27.9" height="22.6" rx="12.0" ry="9.7"/>
<rect x="705.6" y="492.9" width="25.5" height="17.6" rx="11.0" ry="7.6"/>
<rect x="729.3" y="492.4" width="26.3" height="20.2" rx="11.3" ry="8.7"/>
<rect x="706.8" y="507.9" width="26.3" height="15.8" rx="11.3" ry="6.8"/>
<rect x="730.0" y="513.5" width="31.6" height="21.4" rx="13.6" ry="9.2"/>
<rect x="692.5" y="518.0" width="31.6" height="22.2" rx="13.6" ry="9.6"/>
<rect x="721.9" y="526.6" width="27.9" height="21.8" rx="12.0" ry="9.4"/>
</g>
<path d="M692,308 L677,317.5 L664,327.5 L658.5,333.5 L658.3,337 L661.5,339.8 L668.5,339.5 L681,331.5 L697,322.5Z" fill="url(#cb1)" stroke="#120a24" stroke-width="1.2" stroke-linejoin="round"/>
<path d="M708,330.8 L725,329 L743,327.8 L762,327.2 L768,328.2 L769.3,331 L767,333.8 L754,336 L738,336.8 L728,338 L718,340.8 L711,343Z" fill="url(#cb2)" stroke="#120a24" stroke-width="1.2" stroke-linejoin="round"/>
<path d="M682,358.3 L690,358.6 L703,361.5 L706,375 L697,367 L690,363.4 L682.5,360.3Z" fill="#40206e" stroke="#120a24" stroke-width="1.2" stroke-linejoin="round"/>
<path d="M715.5,373.5 L730,366.5 L748,359.2 L749,361.2 L735.5,370.5 L718,383.5Z" fill="#6a3aa0" stroke="#120a24" stroke-width="1.2" stroke-linejoin="round"/>
<path d="M690,284 C690.5,280.5 694.5,279.3 698,279.8 C701.5,280.3 703,282 703.5,285 L706.5,303 L709.5,326 L712.5,345 L715.5,363.5 L717.5,380 L718.8,400 L718.8,415 L714.2,415 C710.5,410 707.5,402 706,396 L702.5,375 L697.5,349 L694,323.5 L691,307Z" fill="url(#cb3)" stroke="#120a24" stroke-width="1.4" stroke-linejoin="round"/>
<text x="349.7" y="297.5" font-size="16" textLength="63.4" lengthAdjust="spacingAndGlyphs" class="lbl">Protein</text>
<text x="423.5" y="297.5" font-size="16" textLength="78.2" lengthAdjust="spacingAndGlyphs" class="lbl">molecule</text>
<text x="575.2" y="272.2" font-size="16" textLength="129.6" lengthAdjust="spacingAndGlyphs" class="lbl">Carbohydrate</text>
<text x="615.3" y="290.2" font-size="16" textLength="49" lengthAdjust="spacingAndGlyphs" class="lbl">chain</text>
<clipPath id="cpW"><rect x="112" y="256" width="744" height="427"/></clipPath>
<text x="778" y="418.3" font-size="14.6" textLength="63.7" lengthAdjust="spacingAndGlyphs" class="lbl">Protein</text>
<text x="778" y="432.5" font-size="14.6" textLength="80" lengthAdjust="spacingAndGlyphs" class="lbl" clip-path="url(#cpW)">molecule</text>
<text x="250" y="587" font-size="14.6" textLength="65" lengthAdjust="spacingAndGlyphs" class="lbl">Protein</text>
<text x="248.7" y="599.5" font-size="14.6" textLength="72.5" lengthAdjust="spacingAndGlyphs" class="lbl">channel</text>
<text x="394.2" y="587" font-size="15" textLength="53.3" lengthAdjust="spacingAndGlyphs" class="lbl">Lipids</text>
<text x="388" y="601.3" font-size="15" textLength="74.5" lengthAdjust="spacingAndGlyphs" class="lbl">(bilayer)</text>
<g stroke="#000" stroke-width="2.6" fill="none">
<path d="M416.6,300.3 L416.6,334" stroke-width="3.2"/>
<path d="M670,279.7 L698,300.2" stroke-width="2.2"/>
<path d="M738,417 L770.6,417" stroke-width="2.8"/>
<path d="M281.2,541 L281.2,569.5" stroke-width="3"/>
<path d="M414,439.2 L405.6,439.2 L405.6,549 L412.5,549 L412.5,569.5" stroke-width="3"/>
</g>
<text transform="translate(179.7,365.0) rotate(-19.6) scale(1.2,1)" font-family="Liberation Sans, sans-serif" font-weight="bold" font-size="17.5" fill="#ff8a00">O</text>
<text transform="translate(197.1,358.8) rotate(-17.6) scale(1.2,1)" font-family="Liberation Sans, sans-serif" font-weight="bold" font-size="17.5" fill="#ff8a00">u</text>
<text transform="translate(211.4,354.4) rotate(-16.1) scale(1.2,1)" font-family="Liberation Sans, sans-serif" font-weight="bold" font-size="17.5" fill="#ff8a00">t</text>
<text transform="translate(220.2,351.8) rotate(-14.8) scale(1.2,1)" font-family="Liberation Sans, sans-serif" font-weight="bold" font-size="17.5" fill="#ff8a00">s</text>
<text transform="translate(233.6,348.3) rotate(-13.5) scale(1.2,1)" font-family="Liberation Sans, sans-serif" font-weight="bold" font-size="17.5" fill="#ff8a00">i</text>
<text transform="translate(241.4,346.5) rotate(-12.3) scale(1.2,1)" font-family="Liberation Sans, sans-serif" font-weight="bold" font-size="17.5" fill="#ff8a00">d</text>
<text transform="translate(256.0,343.3) rotate(-10.7) scale(1.2,1)" font-family="Liberation Sans, sans-serif" font-weight="bold" font-size="17.5" fill="#ff8a00">e</text>
<text transform="translate(277.5,339.5) rotate(-8.4) scale(1.2,1)" font-family="Liberation Sans, sans-serif" font-weight="bold" font-size="17.5" fill="#ff8a00">c</text>
<text transform="translate(291.2,337.5) rotate(-7.0) scale(1.2,1)" font-family="Liberation Sans, sans-serif" font-weight="bold" font-size="17.5" fill="#ff8a00">e</text>
<text transform="translate(304.9,335.9) rotate(-5.9) scale(1.2,1)" font-family="Liberation Sans, sans-serif" font-weight="bold" font-size="17.5" fill="#ff8a00">l</text>
<text transform="translate(312.8,335.1) rotate(-5.1) scale(1.2,1)" font-family="Liberation Sans, sans-serif" font-weight="bold" font-size="17.5" fill="#ff8a00">l</text>
<text transform="translate(181.0,366.3) rotate(-19.6) scale(1.2,1)" font-family="Liberation Sans, sans-serif" font-weight="bold" font-size="17.5" fill="#000">O</text>
<text transform="translate(198.4,360.1) rotate(-17.6) scale(1.2,1)" font-family="Liberation Sans, sans-serif" font-weight="bold" font-size="17.5" fill="#000">u</text>
<text transform="translate(212.7,355.7) rotate(-16.1) scale(1.2,1)" font-family="Liberation Sans, sans-serif" font-weight="bold" font-size="17.5" fill="#000">t</text>
<text transform="translate(221.5,353.1) rotate(-14.8) scale(1.2,1)" font-family="Liberation Sans, sans-serif" font-weight="bold" font-size="17.5" fill="#000">s</text>
<text transform="translate(234.9,349.6) rotate(-13.5) scale(1.2,1)" font-family="Liberation Sans, sans-serif" font-weight="bold" font-size="17.5" fill="#000">i</text>
<text transform="translate(242.7,347.8) rotate(-12.3) scale(1.2,1)" font-family="Liberation Sans, sans-serif" font-weight="bold" font-size="17.5" fill="#000">d</text>
<text transform="translate(257.3,344.6) rotate(-10.7) scale(1.2,1)" font-family="Liberation Sans, sans-serif" font-weight="bold" font-size="17.5" fill="#000">e</text>
<text transform="translate(278.8,340.8) rotate(-8.4) scale(1.2,1)" font-family="Liberation Sans, sans-serif" font-weight="bold" font-size="17.5" fill="#000">c</text>
<text transform="translate(292.5,338.8) rotate(-7.0) scale(1.2,1)" font-family="Liberation Sans, sans-serif" font-weight="bold" font-size="17.5" fill="#000">e</text>
<text transform="translate(306.2,337.2) rotate(-5.9) scale(1.2,1)" font-family="Liberation Sans, sans-serif" font-weight="bold" font-size="17.5" fill="#000">l</text>
<text transform="translate(314.1,336.4) rotate(-5.1) scale(1.2,1)" font-family="Liberation Sans, sans-serif" font-weight="bold" font-size="17.5" fill="#000">l</text>
<text transform="translate(532.8,606.8) rotate(13.9) scale(1.42,1)" font-family="Liberation Sans, sans-serif" font-weight="bold" font-style="italic" font-size="15.5" fill="#ff8a00">I</text>
<text transform="translate(539.8,608.5) rotate(14.4) scale(1.42,1)" font-family="Liberation Sans, sans-serif" font-weight="bold" font-style="italic" font-size="15.5" fill="#ff8a00">n</text>
<text transform="translate(553.9,612.1) rotate(14.9) scale(1.42,1)" font-family="Liberation Sans, sans-serif" font-weight="bold" font-style="italic" font-size="15.5" fill="#ff8a00">s</text>
<text transform="translate(566.8,615.6) rotate(15.4) scale(1.42,1)" font-family="Liberation Sans, sans-serif" font-weight="bold" font-style="italic" font-size="15.5" fill="#ff8a00">i</text>
<text transform="translate(573.7,617.5) rotate(15.8) scale(1.42,1)" font-family="Liberation Sans, sans-serif" font-weight="bold" font-style="italic" font-size="15.5" fill="#ff8a00">d</text>
<text transform="translate(587.7,621.5) rotate(16.3) scale(1.42,1)" font-family="Liberation Sans, sans-serif" font-weight="bold" font-style="italic" font-size="15.5" fill="#ff8a00">e</text>
<text transform="translate(607.5,627.3) rotate(17.1) scale(1.42,1)" font-family="Liberation Sans, sans-serif" font-weight="bold" font-style="italic" font-size="15.5" fill="#ff8a00">c</text>
<text transform="translate(620.2,631.2) rotate(17.6) scale(1.42,1)" font-family="Liberation Sans, sans-serif" font-weight="bold" font-style="italic" font-size="15.5" fill="#ff8a00">e</text>
<text transform="translate(632.9,635.3) rotate(18.0) scale(1.42,1)" font-family="Liberation Sans, sans-serif" font-weight="bold" font-style="italic" font-size="15.5" fill="#ff8a00">l</text>
<text transform="translate(639.8,637.5) rotate(18.2) scale(1.42,1)" font-family="Liberation Sans, sans-serif" font-weight="bold" font-style="italic" font-size="15.5" fill="#ff8a00">l</text>
<text transform="translate(534.0,605.8) rotate(13.9) scale(1.42,1)" font-family="Liberation Sans, sans-serif" font-weight="bold" font-style="italic" font-size="15.5" fill="#000">I</text>
<text transform="translate(541.0,607.5) rotate(14.4) scale(1.42,1)" font-family="Liberation Sans, sans-serif" font-weight="bold" font-style="italic" font-size="15.5" fill="#000">n</text>
<text transform="translate(555.1,611.1) rotate(14.9) scale(1.42,1)" font-family="Liberation Sans, sans-serif" font-weight="bold" font-style="italic" font-size="15.5" fill="#000">s</text>
<text transform="translate(568.0,614.6) rotate(15.4) scale(1.42,1)" font-family="Liberation Sans, sans-serif" font-weight="bold" font-style="italic" font-size="15.5" fill="#000">i</text>
<text transform="translate(574.9,616.5) rotate(15.8) scale(1.42,1)" font-family="Liberation Sans, sans-serif" font-weight="bold" font-style="italic" font-size="15.5" fill="#000">d</text>
<text transform="translate(588.9,620.5) rotate(16.3) scale(1.42,1)" font-family="Liberation Sans, sans-serif" font-weight="bold" font-style="italic" font-size="15.5" fill="#000">e</text>
<text transform="translate(608.7,626.3) rotate(17.1) scale(1.42,1)" font-family="Liberation Sans, sans-serif" font-weight="bold" font-style="italic" font-size="15.5" fill="#000">c</text>
<text transform="translate(621.4,630.2) rotate(17.6) scale(1.42,1)" font-family="Liberation Sans, sans-serif" font-weight="bold" font-style="italic" font-size="15.5" fill="#000">e</text>
<text transform="translate(634.1,634.3) rotate(18.0) scale(1.42,1)" font-family="Liberation Sans, sans-serif" font-weight="bold" font-style="italic" font-size="15.5" fill="#000">l</text>
<text transform="translate(641.0,636.5) rotate(18.2) scale(1.42,1)" font-family="Liberation Sans, sans-serif" font-weight="bold" font-style="italic" font-size="15.5" fill="#000">l</text>
</svg>
<div class="credit">www.sliderbase.com</div>
</div>
</body>
</html>
